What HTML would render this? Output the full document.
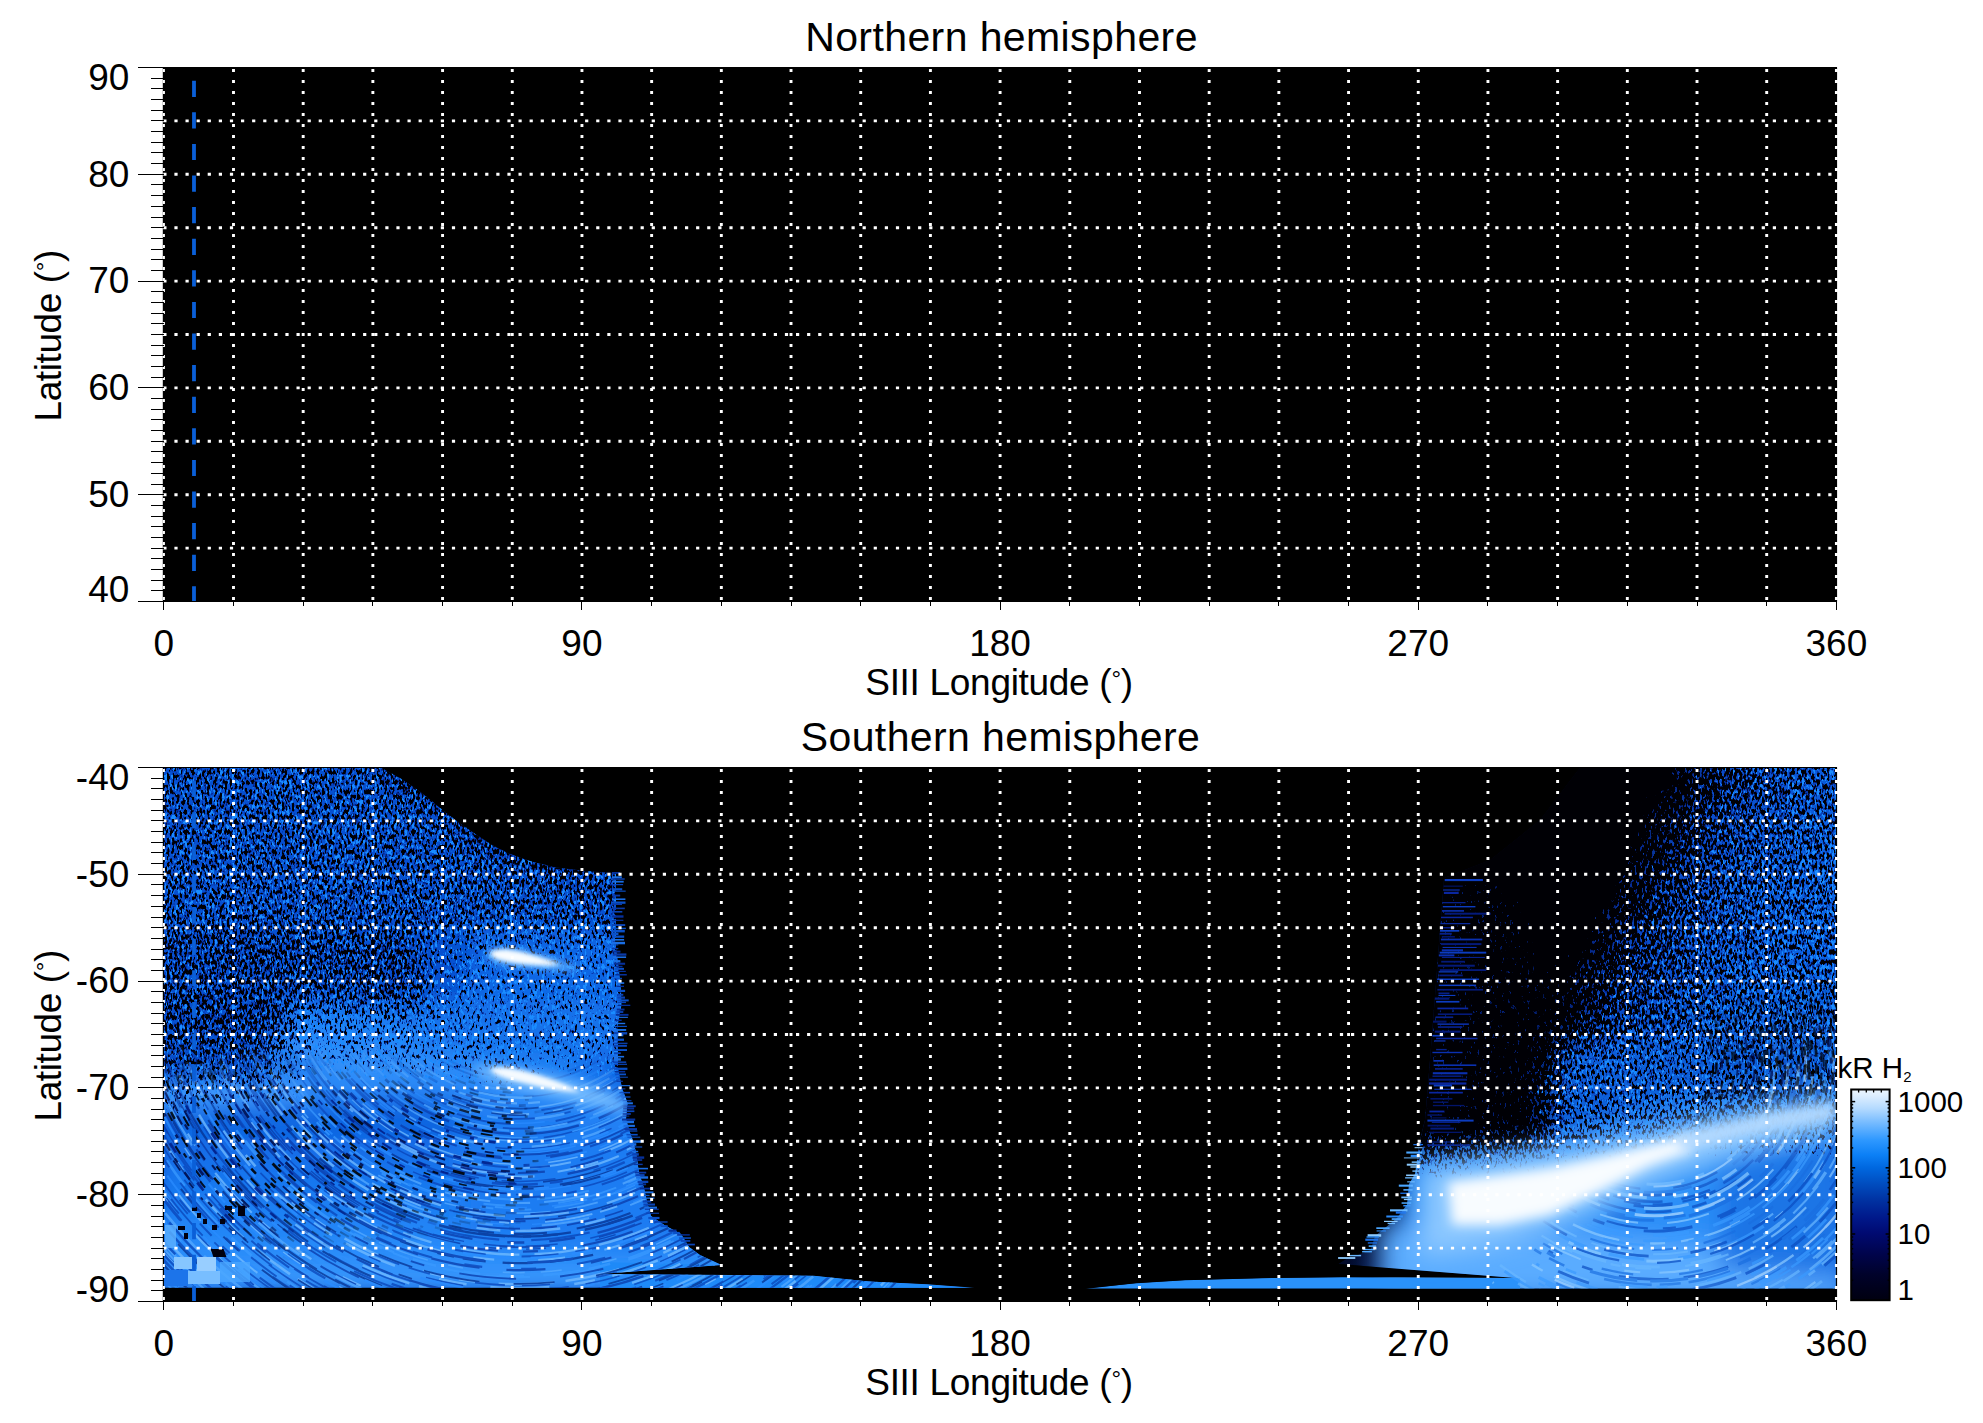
<!DOCTYPE html>
<html><head><meta charset="utf-8"><title>Hemisphere maps</title>
<style>html,body{margin:0;padding:0;background:#fff;width:1983px;height:1423px;overflow:hidden}</style>
</head><body>
<svg width="1983" height="1423" viewBox="0 0 1983 1423" style="display:block">
<rect width="1983" height="1423" fill="#fff"/>
<text x="1001.5" y="50.8" text-anchor="middle" style="font-family:'Liberation Sans',Arial,Helvetica,sans-serif;font-size:41px;letter-spacing:0.4px">Northern hemisphere</text>
<text x="1000.5" y="750.8" text-anchor="middle" style="font-family:'Liberation Sans',Arial,Helvetica,sans-serif;font-size:41px;letter-spacing:0.4px">Southern hemisphere</text>
<rect x="163.3" y="67.5" width="1673.7" height="534.0" fill="#000"/>
<line x1="163.4" y1="67.5" x2="163.4" y2="601.5" stroke="#000" stroke-width="1.2"/>
<line x1="1836.5" y1="67.5" x2="1836.5" y2="601.5" stroke="#000" stroke-width="1.2"/>
<g stroke="#fff" stroke-width="2.9" fill="none"><line x1="163.3" y1="120.90" x2="1837" y2="120.90" stroke-dasharray="3.2 7.9"/><line x1="163.3" y1="174.30" x2="1837" y2="174.30" stroke-dasharray="3.2 7.9"/><line x1="163.3" y1="227.70" x2="1837" y2="227.70" stroke-dasharray="3.2 7.9"/><line x1="163.3" y1="281.10" x2="1837" y2="281.10" stroke-dasharray="3.2 7.9"/><line x1="163.3" y1="334.50" x2="1837" y2="334.50" stroke-dasharray="3.2 7.9"/><line x1="163.3" y1="387.90" x2="1837" y2="387.90" stroke-dasharray="3.2 7.9"/><line x1="163.3" y1="441.30" x2="1837" y2="441.30" stroke-dasharray="3.2 7.9"/><line x1="163.3" y1="494.70" x2="1837" y2="494.70" stroke-dasharray="3.2 7.9"/><line x1="163.3" y1="548.10" x2="1837" y2="548.10" stroke-dasharray="3.2 7.9"/><line x1="233.49" y1="69.0" x2="233.49" y2="601.5" stroke-dasharray="3 8"/><line x1="303.18" y1="69.0" x2="303.18" y2="601.5" stroke-dasharray="3 8"/><line x1="372.87" y1="69.0" x2="372.87" y2="601.5" stroke-dasharray="3 8"/><line x1="442.57" y1="69.0" x2="442.57" y2="601.5" stroke-dasharray="3 8"/><line x1="512.26" y1="69.0" x2="512.26" y2="601.5" stroke-dasharray="3 8"/><line x1="581.95" y1="69.0" x2="581.95" y2="601.5" stroke-dasharray="3 8"/><line x1="651.64" y1="69.0" x2="651.64" y2="601.5" stroke-dasharray="3 8"/><line x1="721.33" y1="69.0" x2="721.33" y2="601.5" stroke-dasharray="3 8"/><line x1="791.02" y1="69.0" x2="791.02" y2="601.5" stroke-dasharray="3 8"/><line x1="860.71" y1="69.0" x2="860.71" y2="601.5" stroke-dasharray="3 8"/><line x1="930.41" y1="69.0" x2="930.41" y2="601.5" stroke-dasharray="3 8"/><line x1="1000.10" y1="69.0" x2="1000.10" y2="601.5" stroke-dasharray="3 8"/><line x1="1069.79" y1="69.0" x2="1069.79" y2="601.5" stroke-dasharray="3 8"/><line x1="1139.48" y1="69.0" x2="1139.48" y2="601.5" stroke-dasharray="3 8"/><line x1="1209.17" y1="69.0" x2="1209.17" y2="601.5" stroke-dasharray="3 8"/><line x1="1278.86" y1="69.0" x2="1278.86" y2="601.5" stroke-dasharray="3 8"/><line x1="1348.56" y1="69.0" x2="1348.56" y2="601.5" stroke-dasharray="3 8"/><line x1="1418.25" y1="69.0" x2="1418.25" y2="601.5" stroke-dasharray="3 8"/><line x1="1487.94" y1="69.0" x2="1487.94" y2="601.5" stroke-dasharray="3 8"/><line x1="1557.63" y1="69.0" x2="1557.63" y2="601.5" stroke-dasharray="3 8"/><line x1="1627.32" y1="69.0" x2="1627.32" y2="601.5" stroke-dasharray="3 8"/><line x1="1697.01" y1="69.0" x2="1697.01" y2="601.5" stroke-dasharray="3 8"/><line x1="1766.70" y1="69.0" x2="1766.70" y2="601.5" stroke-dasharray="3 8"/><line x1="1836.40" y1="69.0" x2="1836.40" y2="601.5" stroke-dasharray="3 8"/></g>
<line x1="163.9" y1="69.0" x2="163.9" y2="601.5" stroke="#fff" stroke-width="2" stroke-dasharray="3 8"/>
<line x1="194" y1="80.7" x2="194" y2="601.5" stroke="#0a5fd8" stroke-width="3.8" stroke-dasharray="16.2 15.4"/>
<g stroke="#000" stroke-width="1" shape-rendering="crispEdges"><line x1="138" y1="67.50" x2="163.8" y2="67.50"/><line x1="151" y1="78.18" x2="163.8" y2="78.18"/><line x1="151" y1="88.86" x2="163.8" y2="88.86"/><line x1="151" y1="99.54" x2="163.8" y2="99.54"/><line x1="151" y1="110.22" x2="163.8" y2="110.22"/><line x1="151" y1="120.90" x2="163.8" y2="120.90"/><line x1="151" y1="131.58" x2="163.8" y2="131.58"/><line x1="151" y1="142.26" x2="163.8" y2="142.26"/><line x1="151" y1="152.94" x2="163.8" y2="152.94"/><line x1="151" y1="163.62" x2="163.8" y2="163.62"/><line x1="138" y1="174.30" x2="163.8" y2="174.30"/><line x1="151" y1="184.98" x2="163.8" y2="184.98"/><line x1="151" y1="195.66" x2="163.8" y2="195.66"/><line x1="151" y1="206.34" x2="163.8" y2="206.34"/><line x1="151" y1="217.02" x2="163.8" y2="217.02"/><line x1="151" y1="227.70" x2="163.8" y2="227.70"/><line x1="151" y1="238.38" x2="163.8" y2="238.38"/><line x1="151" y1="249.06" x2="163.8" y2="249.06"/><line x1="151" y1="259.74" x2="163.8" y2="259.74"/><line x1="151" y1="270.42" x2="163.8" y2="270.42"/><line x1="138" y1="281.10" x2="163.8" y2="281.10"/><line x1="151" y1="291.78" x2="163.8" y2="291.78"/><line x1="151" y1="302.46" x2="163.8" y2="302.46"/><line x1="151" y1="313.14" x2="163.8" y2="313.14"/><line x1="151" y1="323.82" x2="163.8" y2="323.82"/><line x1="151" y1="334.50" x2="163.8" y2="334.50"/><line x1="151" y1="345.18" x2="163.8" y2="345.18"/><line x1="151" y1="355.86" x2="163.8" y2="355.86"/><line x1="151" y1="366.54" x2="163.8" y2="366.54"/><line x1="151" y1="377.22" x2="163.8" y2="377.22"/><line x1="138" y1="387.90" x2="163.8" y2="387.90"/><line x1="151" y1="398.58" x2="163.8" y2="398.58"/><line x1="151" y1="409.26" x2="163.8" y2="409.26"/><line x1="151" y1="419.94" x2="163.8" y2="419.94"/><line x1="151" y1="430.62" x2="163.8" y2="430.62"/><line x1="151" y1="441.30" x2="163.8" y2="441.30"/><line x1="151" y1="451.98" x2="163.8" y2="451.98"/><line x1="151" y1="462.66" x2="163.8" y2="462.66"/><line x1="151" y1="473.34" x2="163.8" y2="473.34"/><line x1="151" y1="484.02" x2="163.8" y2="484.02"/><line x1="138" y1="494.70" x2="163.8" y2="494.70"/><line x1="151" y1="505.38" x2="163.8" y2="505.38"/><line x1="151" y1="516.06" x2="163.8" y2="516.06"/><line x1="151" y1="526.74" x2="163.8" y2="526.74"/><line x1="151" y1="537.42" x2="163.8" y2="537.42"/><line x1="151" y1="548.10" x2="163.8" y2="548.10"/><line x1="151" y1="558.78" x2="163.8" y2="558.78"/><line x1="151" y1="569.46" x2="163.8" y2="569.46"/><line x1="151" y1="580.14" x2="163.8" y2="580.14"/><line x1="151" y1="590.82" x2="163.8" y2="590.82"/><line x1="138" y1="601.50" x2="163.8" y2="601.50"/><line x1="163.80" y1="601.5" x2="163.80" y2="609.5"/><line x1="233.49" y1="601.5" x2="233.49" y2="605.5"/><line x1="303.18" y1="601.5" x2="303.18" y2="605.5"/><line x1="372.87" y1="601.5" x2="372.87" y2="605.5"/><line x1="442.57" y1="601.5" x2="442.57" y2="605.5"/><line x1="512.26" y1="601.5" x2="512.26" y2="605.5"/><line x1="581.95" y1="601.5" x2="581.95" y2="609.5"/><line x1="651.64" y1="601.5" x2="651.64" y2="605.5"/><line x1="721.33" y1="601.5" x2="721.33" y2="605.5"/><line x1="791.02" y1="601.5" x2="791.02" y2="605.5"/><line x1="860.71" y1="601.5" x2="860.71" y2="605.5"/><line x1="930.41" y1="601.5" x2="930.41" y2="605.5"/><line x1="1000.10" y1="601.5" x2="1000.10" y2="609.5"/><line x1="1069.79" y1="601.5" x2="1069.79" y2="605.5"/><line x1="1139.48" y1="601.5" x2="1139.48" y2="605.5"/><line x1="1209.17" y1="601.5" x2="1209.17" y2="605.5"/><line x1="1278.86" y1="601.5" x2="1278.86" y2="605.5"/><line x1="1348.56" y1="601.5" x2="1348.56" y2="605.5"/><line x1="1418.25" y1="601.5" x2="1418.25" y2="609.5"/><line x1="1487.94" y1="601.5" x2="1487.94" y2="605.5"/><line x1="1557.63" y1="601.5" x2="1557.63" y2="605.5"/><line x1="1627.32" y1="601.5" x2="1627.32" y2="605.5"/><line x1="1697.01" y1="601.5" x2="1697.01" y2="605.5"/><line x1="1766.70" y1="601.5" x2="1766.70" y2="605.5"/><line x1="1836.40" y1="601.5" x2="1836.40" y2="609.5"/><line x1="138" y1="67.5" x2="1837" y2="67.5"/><line x1="138" y1="601.5" x2="1837" y2="601.5"/></g>
<g style="font-family:'Liberation Sans',Arial,Helvetica,sans-serif;font-size:37px" fill="#000"><text x="129.3" y="89.5" text-anchor="end">90</text><text x="129.3" y="186.5" text-anchor="end">80</text><text x="129.3" y="293.3" text-anchor="end">70</text><text x="129.3" y="400.1" text-anchor="end">60</text><text x="129.3" y="506.9" text-anchor="end">50</text><text x="129.3" y="601.5" text-anchor="end">40</text><text x="163.8" y="655.8" text-anchor="middle">0</text><text x="581.9" y="655.8" text-anchor="middle">90</text><text x="1000.1" y="655.8" text-anchor="middle">180</text><text x="1418.2" y="655.8" text-anchor="middle">270</text><text x="1836.4" y="655.8" text-anchor="middle">360</text></g>
<rect x="163.3" y="767.5" width="1673.7" height="534.0" fill="#000"/>
<defs>
<clipPath id="cL"><polygon points="164.0,767.5 381.0,767.5 400.0,778.0 418.0,790.0 432.0,801.0 445.0,812.0 461.0,824.0 477.0,835.0 492.0,845.0 508.0,853.0 530.0,861.0 554.0,867.0 585.0,871.0 616.0,873.0 616.0,906.0 616.0,948.0 619.0,970.0 621.0,990.0 621.5,1005.0 617.5,1026.0 618.0,1068.0 622.0,1088.0 627.5,1103.0 626.0,1119.0 629.0,1130.0 633.0,1141.0 636.0,1152.0 639.0,1173.0 644.0,1188.0 647.0,1202.0 651.0,1216.0 665.0,1225.5 681.0,1234.0 689.0,1247.0 700.0,1255.0 721.6,1265.0 600.0,1274.0 813.6,1275.7 869.0,1281.4 926.6,1284.3 974.5,1287.8 164.0,1287.8"/></clipPath>
<clipPath id="cR"><polygon points="1836.0,767.5 1836.0,1288.5 1084.2,1288.5 1136.7,1283.2 1185.0,1280.2 1261.7,1278.2 1342.0,1277.2 1516.0,1278.0 1338.0,1264.0 1346.0,1259.0 1370.6,1250.0 1375.0,1236.0 1397.0,1218.0 1407.0,1204.5 1409.0,1184.0 1415.0,1174.0 1417.0,1160.0 1419.0,1144.0 1425.0,1120.0 1430.0,1060.0 1436.0,983.0 1444.0,878.0 1490.0,860.0 1540.0,820.0 1580.0,767.5"/></clipPath>
<clipPath id="cLR"><polygon points="164.0,767.5 381.0,767.5 400.0,778.0 418.0,790.0 432.0,801.0 445.0,812.0 461.0,824.0 477.0,835.0 492.0,845.0 508.0,853.0 530.0,861.0 554.0,867.0 585.0,871.0 616.0,873.0 616.0,906.0 616.0,948.0 619.0,970.0 621.0,990.0 621.5,1005.0 617.5,1026.0 618.0,1068.0 622.0,1088.0 627.5,1103.0 626.0,1119.0 629.0,1130.0 633.0,1141.0 636.0,1152.0 639.0,1173.0 644.0,1188.0 647.0,1202.0 651.0,1216.0 665.0,1225.5 681.0,1234.0 689.0,1247.0 700.0,1255.0 721.6,1265.0 600.0,1274.0 813.6,1275.7 869.0,1281.4 926.6,1284.3 974.5,1287.8 164.0,1287.8"/><polygon points="1836.0,767.5 1836.0,1288.5 1084.2,1288.5 1136.7,1283.2 1185.0,1280.2 1261.7,1278.2 1342.0,1277.2 1516.0,1278.0 1338.0,1264.0 1346.0,1259.0 1370.6,1250.0 1375.0,1236.0 1397.0,1218.0 1407.0,1204.5 1409.0,1184.0 1415.0,1174.0 1417.0,1160.0 1419.0,1144.0 1425.0,1120.0 1430.0,1060.0 1436.0,983.0 1444.0,878.0 1490.0,860.0 1540.0,820.0 1580.0,767.5"/></clipPath>
<filter id="spk" x="163" y="767" width="1675" height="522" filterUnits="userSpaceOnUse" color-interpolation-filters="sRGB">
<feColorMatrix in="SourceGraphic" type="matrix" values="1 0 0 0 0  0 1 0 0 0  1 0 0 0 0  0 0 0 0 1" result="d1"/>
<feComponentTransfer in="d1" result="d"><feFuncR type="table" tableValues="0 0.308 0.35 0.379 0.402 0.421 0.439 0.455 0.47 0.485 0.5 0.515 0.53 0.545 0.561 0.579 0.598 0.621 0.65 0.692 1"/><feFuncG type="table" tableValues="0 0.308 0.35 0.379 0.402 0.421 0.439 0.455 0.47 0.485 0.5 0.515 0.53 0.545 0.561 0.579 0.598 0.621 0.65 0.692 1"/><feFuncB type="table" tableValues="0 0.37 0.41 0.44 0.46 0.48 0.5 0.515 0.53 0.545 0.56 0.575 0.59 0.605 0.62 0.64 0.66 0.68 0.71 0.75 1"/><feFuncA type="linear" slope="0" intercept="1"/></feComponentTransfer>
<feTurbulence type="fractalNoise" baseFrequency="0.4 0.2" numOctaves="2" seed="7" result="n0"/>
<feColorMatrix in="n0" type="matrix" values="1 0 0 0 0  0 1 0 0 0  1 0 0 0 0  0 0 0 0 1" result="n"/>
<feComposite in="n" in2="d" operator="arithmetic" k1="0" k2="1" k3="-1" k4="1" result="c"/>
<feColorMatrix in="c" type="matrix" values="0 0 0 0 0  0 0 0 0 0.0  0 0 0 0 0.02  -14 0 0 0 14" result="dk"/>
<feColorMatrix in="c" type="matrix" values="0 0 0 0 0.02  0 0 0 0 0.16  0 0 0 0 0.6  0 0 -14 0 14" result="nv"/>
<feColorMatrix in="c" type="matrix" values="0 0 0 0 0.1  0 0 0 0 0.55  0 0 0 0 1  0 -14 0 0 14" result="br"/>
<feMerge><feMergeNode in="br"/><feMergeNode in="nv"/><feMergeNode in="dk"/></feMerge>
</filter>
<filter id="b2" x="-20%" y="-20%" width="140%" height="140%"><feGaussianBlur stdDeviation="2"/></filter>
<filter id="b4" x="-30%" y="-30%" width="160%" height="160%"><feGaussianBlur stdDeviation="4"/></filter>
<filter id="b6" x="-30%" y="-30%" width="160%" height="160%"><feGaussianBlur stdDeviation="6"/></filter>
<filter id="b8" x="-30%" y="-30%" width="160%" height="160%"><feGaussianBlur stdDeviation="8"/></filter>
<filter id="b12" x="-30%" y="-30%" width="160%" height="160%"><feGaussianBlur stdDeviation="12"/></filter>
<filter id="b16" x="-30%" y="-30%" width="160%" height="160%"><feGaussianBlur stdDeviation="16"/></filter>

<linearGradient id="gDR" gradientUnits="userSpaceOnUse" x1="1560" y1="830" x2="1800" y2="950">
<stop offset="0" stop-color="rgb(255,0,0)"/><stop offset="0.25" stop-color="rgb(252,0,0)"/><stop offset="0.36" stop-color="rgb(230,10,0)"/>
<stop offset="0.48" stop-color="rgb(178,51,0)"/><stop offset="0.62" stop-color="rgb(133,97,0)"/><stop offset="0.8" stop-color="rgb(117,117,0)"/><stop offset="1" stop-color="rgb(112,128,0)"/></linearGradient>
<linearGradient id="gBR" gradientUnits="userSpaceOnUse" x1="1560" y1="830" x2="1800" y2="950">
<stop offset="0" stop-color="#020a28"/><stop offset="0.3" stop-color="#062a80"/><stop offset="0.45" stop-color="#0a4cc8"/><stop offset="1" stop-color="#0a62e2"/></linearGradient>
<linearGradient id="gLlow" gradientUnits="userSpaceOnUse" x1="0" y1="1090" x2="0" y2="1288">
<stop offset="0" stop-color="#0c5ad8"/><stop offset="0.45" stop-color="#1676ee"/><stop offset="0.75" stop-color="#2488f8"/><stop offset="1" stop-color="#3a98fc"/></linearGradient>
<linearGradient id="mLowG" gradientUnits="userSpaceOnUse" x1="0" y1="1040" x2="0" y2="1120">
<stop offset="0" stop-color="#000"/><stop offset="1" stop-color="#fff"/></linearGradient>
<mask id="mLow" maskUnits="userSpaceOnUse" x="150" y="760" width="900" height="540"><rect x="150" y="760" width="900" height="540" fill="url(#mLowG)"/></mask>
<mask id="mLowDark" maskUnits="userSpaceOnUse" x="150" y="760" width="900" height="540"><path d="M150,1070 C300,1080 420,1090 520,1100 L540,1200 C420,1215 300,1230 150,1250Z" fill="#fff" filter="url(#b16)"/></mask>
<mask id="mRlow" maskUnits="userSpaceOnUse" x="1000" y="760" width="840" height="540"><path d="M1380,1180 L1560,1150 L1700,1090 L1860,1040 L1860,1300 L1380,1300Z" fill="#fff" filter="url(#b16)"/></mask>
<mask id="mRmid" maskUnits="userSpaceOnUse" x="1000" y="760" width="840" height="540"><path d="M1560,1040 L1860,1000 L1860,1110 L1700,1120 L1600,1150 L1540,1150Z" fill="#fff" filter="url(#b16)"/></mask>

</defs>
<g clip-path="url(#cL)">
<polygon points="164.0,767.5 381.0,767.5 400.0,778.0 418.0,790.0 432.0,801.0 445.0,812.0 461.0,824.0 477.0,835.0 492.0,845.0 508.0,853.0 530.0,861.0 554.0,867.0 585.0,871.0 616.0,873.0 616.0,906.0 616.0,948.0 619.0,970.0 621.0,990.0 621.5,1005.0 617.5,1026.0 618.0,1068.0 622.0,1088.0 627.5,1103.0 626.0,1119.0 629.0,1130.0 633.0,1141.0 636.0,1152.0 639.0,1173.0 644.0,1188.0 647.0,1202.0 651.0,1216.0 665.0,1225.5 681.0,1234.0 689.0,1247.0 700.0,1255.0 721.6,1265.0 600.0,1274.0 813.6,1275.7 869.0,1281.4 926.6,1284.3 974.5,1287.8 164.0,1287.8" fill="#0650d0"/>
<rect x="160" y="1090" width="900" height="200" fill="url(#gLlow)" filter="url(#b8)"/>
<g filter="url(#b12)">
<path d="M470,930 L640,930 L660,1230 L470,1230Z" fill="#0e66e4"/>
<path d="M460,1100 L660,1110 L700,1250 L460,1240Z" fill="#1a7cf2"/>
<path d="M280,1000 C380,1002 460,1014 530,1034 L600,1080 L600,1110 C520,1090 430,1075 280,1065Z" fill="#1e80f4"/>
<path d="M270,1038 C340,1044 420,1054 490,1064 L490,1084 C420,1076 340,1066 270,1060Z" fill="#3a98fc"/>
<path d="M420,1000 L620,1000 L620,1060 L420,1050Z" fill="#1272ea"/>
<path d="M130,1078 C260,1082 380,1062 470,1065 C540,1070 600,1090 660,1105 L660,1125 C560,1110 480,1100 400,1102 C300,1106 220,1110 130,1108Z" fill="#2a8af8"/>
<path d="M130,1082 L300,1084 L300,1104 L130,1106Z" fill="#4aa2ff"/>
</g>
<path d="M600,1262 L720,1265 L600,1272Z M600,1276 L813,1276 L869,1281.5 L926,1284.5 L975,1288 L600,1288Z" fill="#1e8af8"/>
</g>
<g clip-path="url(#cR)">
<polygon points="1836.0,767.5 1836.0,1288.5 1084.2,1288.5 1136.7,1283.2 1185.0,1280.2 1261.7,1278.2 1342.0,1277.2 1516.0,1278.0 1338.0,1264.0 1346.0,1259.0 1370.6,1250.0 1375.0,1236.0 1397.0,1218.0 1407.0,1204.5 1409.0,1184.0 1415.0,1174.0 1417.0,1160.0 1419.0,1144.0 1425.0,1120.0 1430.0,1060.0 1436.0,983.0 1444.0,878.0 1490.0,860.0 1540.0,820.0 1580.0,767.5" fill="url(#gBR)"/>
<g filter="url(#b12)">
<path d="M1400,880 L1520,880 L1560,990 L1600,1060 L1540,1150 L1400,1160Z" fill="#041650"/>
<path d="M1560,1040 L1860,1000 L1860,1110 L1700,1120 L1600,1150 L1540,1150Z" fill="#0c5ed8"/>
<path d="M1400,1150 C1500,1150 1560,1140 1620,1120 C1700,1095 1760,1085 1850,1080 L1850,1300 L1400,1300Z" fill="#2c8ef8"/>
<path d="M1380,1225 C1500,1230 1600,1235 1700,1245 L1850,1250 L1850,1300 L1380,1300Z" fill="#5aacff"/>
<path d="M1720,1160 L1850,1130 L1850,1280 L1720,1270Z" fill="#1a74e6"/>
</g>
<path d="M1084,1289 L1136,1283 L1185,1280 L1262,1278 L1342,1277 L1520,1278 L1520,1289Z" fill="#2a92fa"/>
</g>
<g clip-path="url(#cLR)"><g filter="url(#spk)">
<rect x="163" y="767" width="1675" height="522" fill="rgb(0,0,0)"/>
<g filter="url(#b12)">
<rect x="100" y="700" width="560" height="240" fill="rgb(107,102,0)"/>
<rect x="100" y="930" width="340" height="80" fill="rgb(140,82,0)"/>
<path d="M381,767.5 L400,778 L418,790 L445,812 L477,835 L508,853 L554,867 L616,873" fill="none" stroke="rgb(158,76,0)" stroke-width="22"/>
<rect x="100" y="1000" width="200" height="60" fill="rgb(140,76,0)"/>
<path d="M290,1000 C380,1000 460,1010 520,1030 L520,1080 C440,1070 360,1062 290,1058Z" fill="rgb(51,89,0)"/>
<path d="M420,930 L660,930 L660,1070 L420,1060Z" fill="rgb(36,76,0)"/>
<path d="M280,1040 C340,1046 420,1056 490,1066 L490,1080 C420,1072 340,1064 280,1058Z" fill="rgb(20,76,0)"/>
<rect x="100" y="1055" width="190" height="35" fill="rgb(82,76,0)"/>
<rect x="100" y="1085" width="100" height="25" fill="rgb(26,76,0)"/>
<rect x="1380" y="700" width="500" height="440" fill="url(#gDR)"/>
<path d="M1400,880 L1520,880 L1560,990 L1600,1060 L1540,1150 L1400,1160Z" fill="rgb(245,5,0)"/>
<path d="M1560,1040 L1900,1030 L1900,1110 L1700,1120 L1600,1150 L1540,1150Z" fill="rgb(84,76,0)"/>
</g>
</g></g>
<g clip-path="url(#cL)"><g mask="url(#mLow)">
<g fill="none" opacity="0.75"><path d="M652.4,1000.4A150.0,150.0 0 0 1 387.0,860.6" stroke="#0a44b8" stroke-width="2.1" stroke-dasharray="33 32 56 28 35 33 19 30 41 41 15 21 15 42 45 10 59 49" stroke-dashoffset="250"/><path d="M647.8,1013.6A152.7,152.7 0 1 1 407.1,827.2" stroke="#0a3aa8" stroke-width="1.9" stroke-dasharray="40 41 26 33 20 18 25 8 14 36 30 31 57 11 23 40 36 9" stroke-dashoffset="254"/><path d="M648.6,1017.2A155.4,155.4 0 0 1 385.5,852.2" stroke="#2a8cff" stroke-width="1.6" stroke-dasharray="10 17 56 28 59 25 14 34 49 19 14 22 58 40 16 18 15 11" stroke-dashoffset="168"/><path d="M659.1,1004.6A157.9,157.9 0 1 1 383.8,850.3" stroke="#56aaff" stroke-width="2.4" stroke-dasharray="17 35 16 26 21 19 59 42 25 45 21 25 53 35 15 50 21 19" stroke-dashoffset="116"/><path d="M660.6,1006.9A160.2,160.2 0 0 1 378.0,855.7" stroke="#2a8cff" stroke-width="2.1" stroke-dasharray="11 23 41 13 39 43 17 24 41 21 21 34 46 15 41 31 44 24" stroke-dashoffset="126"/><path d="M659.0,1015.2A163.1,163.1 0 1 1 387.2,835.3" stroke="#2a8cff" stroke-width="1.7" stroke-dasharray="22 38 23 43 40 20 19 38 13 18 38 44 41 20 56 17 11 19" stroke-dashoffset="14"/><path d="M649.3,1033.9A165.9,165.9 0 1 1 395.6,820.3" stroke="#0a3aa8" stroke-width="1.5" stroke-dasharray="15 14 33 22 47 30 57 33 56 28 28 21 12 33 14 11 26 14" stroke-dashoffset="164"/><path d="M651.3,1035.4A168.4,168.4 0 0 1 384.3,830.3" stroke="#74bcff" stroke-width="2.3" stroke-dasharray="45 41 56 23 44 46 54 26 50 44 39 34 29 32 40 11 42 50" stroke-dashoffset="117"/><path d="M662.2,1024.1A170.5,170.5 0 0 1 373.9,842.2" stroke="#2a8cff" stroke-width="2.0" stroke-dasharray="52 12 48 9 40 28 22 37 35 34 56 19 11 21 44 17 18 46" stroke-dashoffset="72"/><path d="M666.5,1021.7A172.9,172.9 0 1 1 388.4,817.9" stroke="#74bcff" stroke-width="2.2" stroke-dasharray="50 40 20 17 21 47 20 14 28 46 12 11 59 43 16 28 56 43" stroke-dashoffset="148"/><path d="M659.9,1036.3A175.7,175.7 0 0 1 372.5,834.6" stroke="#2a8cff" stroke-width="1.5" stroke-dasharray="33 11 12 45 12 38 39 21 50 9 17 27 11 43 22 14 12 34" stroke-dashoffset="161"/><path d="M661.6,1036.8A177.4,177.4 0 1 1 387.3,812.3" stroke="#74bcff" stroke-width="1.6" stroke-dasharray="20 43 23 38 48 30 12 18 49 31 57 29 60 15 52 37 21 25" stroke-dashoffset="136"/><path d="M668.6,1030.5A179.4,179.4 0 1 1 374.5,825.0" stroke="#06308f" stroke-width="1.8" stroke-dasharray="38 45 50 48 33 35 20 38 51 35 46 17 55 49 59 31 50 21" stroke-dashoffset="25"/><path d="M658.8,1047.7A182.0,182.0 0 0 1 372.8,823.1" stroke="#0a44b8" stroke-width="1.9" stroke-dasharray="34 9 50 11 50 15 27 41 17 14 36 38 52 37 57 29 57 12" stroke-dashoffset="168"/><path d="M680.8,1018.9A183.7,183.7 0 0 1 358.5,842.4" stroke="#74bcff" stroke-width="2.1" stroke-dasharray="36 46 23 36 58 45 40 21 17 31 24 29 31 13 10 24 37 10" stroke-dashoffset="297"/><path d="M666.2,1044.2A185.5,185.5 0 0 1 363.0,831.3" stroke="#06308f" stroke-width="1.6" stroke-dasharray="57 27 56 42 30 18 35 22 55 47 56 30 15 26 11 19 45 49" stroke-dashoffset="68"/><path d="M663.7,1050.4A187.5,187.5 0 1 1 379.5,805.9" stroke="#0a44b8" stroke-width="1.7" stroke-dasharray="41 12 47 13 36 19 20 30 32 24 31 30 18 17 42 35 36 44" stroke-dashoffset="222"/><path d="M685.9,1021.4A189.4,189.4 0 1 1 365.0,821.1" stroke="#56aaff" stroke-width="2.5" stroke-dasharray="26 47 21 50 54 14 22 39 23 12 52 26 49 13 30 37 11 16" stroke-dashoffset="291"/><path d="M680.5,1035.3A192.0,192.0 0 1 1 360.5,823.1" stroke="#2a8cff" stroke-width="1.5" stroke-dasharray="35 37 19 11 15 10 38 30 38 14 19 17 52 50 56 12 13 48" stroke-dashoffset="29"/><path d="M668.9,1054.4A194.0,194.0 0 0 1 353.9,829.7" stroke="#0a44b8" stroke-width="2.0" stroke-dasharray="21 24 42 10 20 25 28 24 56 33 15 41 26 12 52 45 55 47" stroke-dashoffset="295"/><path d="M687.2,1033.6A196.7,196.7 0 0 1 350.4,830.3" stroke="#0a44b8" stroke-width="1.7" stroke-dasharray="47 41 51 25 55 45 45 40 48 25 46 11 27 28 11 23 42 34" stroke-dashoffset="288"/><path d="M666.6,1064.3A198.8,198.8 0 0 1 359.3,812.9" stroke="#56aaff" stroke-width="2.1" stroke-dasharray="19 11 36 29 21 13 30 32 16 13 22 27 35 40 42 8 23 20" stroke-dashoffset="152"/><path d="M670.2,1064.6A201.7,201.7 0 0 1 360.3,806.9" stroke="#3a9aff" stroke-width="2.0" stroke-dasharray="42 42 14 33 48 10 57 15 34 15 35 34 13 48 31 30 40 23" stroke-dashoffset="81"/><path d="M688.3,1045.6A204.2,204.2 0 1 1 369.8,791.6" stroke="#0a3aa8" stroke-width="2.5" stroke-dasharray="11 40 39 35 30 37 13 21 30 32 46 21 50 17 46 19 48 10" stroke-dashoffset="217"/><path d="M675.4,1066.5A206.8,206.8 0 0 1 360.5,798.3" stroke="#0a44b8" stroke-width="1.7" stroke-dasharray="40 13 41 27 20 10 36 13 32 36 33 19 39 26 49 30 60 48" stroke-dashoffset="34"/><path d="M685.2,1058.3A209.2,209.2 0 0 1 350.4,807.6" stroke="#3a9aff" stroke-width="1.5" stroke-dasharray="28 19 44 32 40 35 48 16 22 49 56 45 12 11 24 26 41 12" stroke-dashoffset="26"/><path d="M681.5,1066.6A211.6,211.6 0 0 1 336.7,824.4" stroke="#56aaff" stroke-width="1.7" stroke-dasharray="29 28 21 22 47 43 14 13 50 34 48 17 31 19 50 23 43 50" stroke-dashoffset="228"/><path d="M699.7,1046.1A214.0,214.0 0 0 1 332.7,826.7" stroke="#0a44b8" stroke-width="1.8" stroke-dasharray="39 27 26 31 32 32 51 27 51 8 26 46 40 37 35 40 26 45" stroke-dashoffset="218"/><path d="M684.9,1070.2A216.4,216.4 0 0 1 344.9,802.8" stroke="#56aaff" stroke-width="2.4" stroke-dasharray="38 47 57 46 32 42 25 21 30 47 55 18 28 23 28 25 29 16" stroke-dashoffset="162"/><path d="M701.4,1051.2A218.2,218.2 0 1 1 349.0,794.5" stroke="#0a44b8" stroke-width="1.5" stroke-dasharray="48 45 24 9 36 31 38 49 43 42 13 31 49 12 14 39 55 12" stroke-dashoffset="245"/><path d="M699.7,1057.6A220.4,220.4 0 1 1 347.2,793.2" stroke="#2a8cff" stroke-width="2.5" stroke-dasharray="55 22 33 23 50 22 17 28 50 11 41 10 48 49 27 8 29 12" stroke-dashoffset="192"/><path d="M691.3,1072.8A223.0,223.0 0 0 1 330.9,811.8" stroke="#2a8cff" stroke-width="1.4" stroke-dasharray="31 26 17 39 60 24 18 17 31 20 58 10 25 13 42 41 19 11" stroke-dashoffset="144"/><path d="M718.9,1034.8A224.8,224.8 0 1 1 353.4,779.1" stroke="#0a3aa8" stroke-width="2.0" stroke-dasharray="28 33 40 28 35 27 55 25 56 47 41 48 38 44 34 25 58 36" stroke-dashoffset="66"/><path d="M714.4,1048.0A227.4,227.4 0 1 1 335.0,797.8" stroke="#0a44b8" stroke-width="2.2" stroke-dasharray="29 30 36 20 60 36 22 8 34 24 50 38 40 15 18 22 23 45" stroke-dashoffset="298"/><path d="M723.1,1036.1A229.1,229.1 0 1 1 329.2,803.2" stroke="#0a3aa8" stroke-width="2.3" stroke-dasharray="49 8 51 44 51 11 23 38 15 28 33 48 39 44 25 41 31 47" stroke-dashoffset="132"/><path d="M711.0,1060.5A231.3,231.3 0 0 1 314.2,824.4" stroke="#2a8cff" stroke-width="1.7" stroke-dasharray="57 48 26 25 38 50 43 11 14 14 43 36 47 41 16 27 53 38" stroke-dashoffset="169"/><path d="M725.8,1041.8A234.2,234.2 0 1 1 335.1,786.3" stroke="#74bcff" stroke-width="1.5" stroke-dasharray="50 17 41 20 29 31 25 22 30 36 23 16 47 22 57 32 46 22" stroke-dashoffset="42"/><path d="M709.5,1071.8A236.6,236.6 0 0 1 319.5,804.3" stroke="#74bcff" stroke-width="2.1" stroke-dasharray="19 25 52 33 15 18 18 13 30 11 56 26 36 35 48 42 29 22" stroke-dashoffset="218"/><path d="M698.0,1089.9A239.2,239.2 0 1 1 345.0,766.9" stroke="#0a44b8" stroke-width="2.1" stroke-dasharray="22 49 36 19 19 21 32 31 20 22 25 12 46 19 37 21 22 34" stroke-dashoffset="59"/><path d="M700.9,1090.3A241.7,241.7 0 1 1 342.9,765.6" stroke="#0a3aa8" stroke-width="2.1" stroke-dasharray="57 32 11 36 49 14 34 26 27 12 54 19 54 27 46 18 38 31" stroke-dashoffset="79"/><path d="M709.3,1084.5A244.3,244.3 0 0 1 307.4,809.6" stroke="#74bcff" stroke-width="2.1" stroke-dasharray="40 13 51 20 55 18 39 43 19 31 14 9 19 49 57 36 25 36" stroke-dashoffset="192"/><path d="M700.5,1097.8A246.4,246.4 0 0 1 332.4,770.3" stroke="#74bcff" stroke-width="2.3" stroke-dasharray="12 30 16 25 27 14 22 47 13 41 46 41 30 29 15 23 55 46" stroke-dashoffset="146"/><path d="M708.1,1093.3A249.1,249.1 0 1 1 336.5,761.5" stroke="#0a3aa8" stroke-width="2.4" stroke-dasharray="30 26 38 46 36 30 32 46 26 10 46 46 47 33 48 21 40 11" stroke-dashoffset="73"/><path d="M706.1,1098.8A251.2,251.2 0 0 1 296.2,815.9" stroke="#0a44b8" stroke-width="1.5" stroke-dasharray="15 46 37 36 57 45 60 39 54 23 37 32 18 35 31 13 14 30" stroke-dashoffset="161"/><path d="M733.1,1066.6A253.1,253.1 0 1 1 311.6,786.4" stroke="#06308f" stroke-width="1.6" stroke-dasharray="25 22 13 46 51 25 28 33 12 9 55 21 35 47 59 28 20 20" stroke-dashoffset="251"/><path d="M720.7,1087.1A254.9,254.9 0 0 1 302.2,797.6" stroke="#0a44b8" stroke-width="2.4" stroke-dasharray="54 50 20 35 20 45 13 12 46 21 55 45 46 14 45 47 32 11" stroke-dashoffset="36"/><path d="M740.6,1062.6A257.4,257.4 0 1 1 322.4,765.1" stroke="#06308f" stroke-width="2.1" stroke-dasharray="35 20 24 42 36 13 36 49 55 16 21 14 43 27 14 47 14 46" stroke-dashoffset="85"/><path d="M731.9,1078.9A259.0,259.0 0 1 1 323.1,761.7" stroke="#2a8cff" stroke-width="2.3" stroke-dasharray="24 40 22 20 37 16 55 49 12 27 48 24 56 29 19 31 42 23" stroke-dashoffset="155"/><path d="M746.7,1060.3A261.5,261.5 0 0 1 292.3,801.5" stroke="#06308f" stroke-width="2.1" stroke-dasharray="36 48 19 41 18 34 22 26 49 41 50 18 34 17 39 29 12 33" stroke-dashoffset="262"/><path d="M748.4,1060.5A263.0,263.0 0 1 1 294.7,794.2" stroke="#2a8cff" stroke-width="1.5" stroke-dasharray="35 26 32 19 50 11 55 32 37 41 22 14 26 10 26 34 36 19" stroke-dashoffset="246"/><path d="M738.1,1080.2A264.8,264.8 0 1 1 323.1,752.9" stroke="#0a44b8" stroke-width="1.5" stroke-dasharray="45 43 49 11 31 23 21 49 12 29 48 49 17 27 47 10 22 45" stroke-dashoffset="167"/><path d="M723.5,1103.7A267.6,267.6 0 0 1 295.8,783.9" stroke="#0a44b8" stroke-width="2.0" stroke-dasharray="44 38 59 34 25 13 53 26 14 18 25 48 56 17 18 33 60 39" stroke-dashoffset="118"/><path d="M730.4,1099.5A270.2,270.2 0 0 1 299.2,774.3" stroke="#3a9aff" stroke-width="2.1" stroke-dasharray="21 23 19 31 18 17 21 28 25 27 60 37 53 17 29 11 45 23" stroke-dashoffset="156"/><path d="M761.3,1056.4A272.5,272.5 0 1 1 282.7,796.2" stroke="#3a9aff" stroke-width="1.9" stroke-dasharray="42 17 15 10 46 41 17 18 52 13 60 43 32 44 29 19 54 36" stroke-dashoffset="71"/><path d="M728.7,1108.7A274.8,274.8 0 0 1 306.3,757.3" stroke="#56aaff" stroke-width="2.1" stroke-dasharray="12 21 31 31 17 38 23 38 43 14 20 20 46 25 29 44 21 20" stroke-dashoffset="42"/><path d="M761.0,1066.5A277.0,277.0 0 1 1 288.9,777.4" stroke="#3a9aff" stroke-width="2.0" stroke-dasharray="11 40 47 36 13 44 38 23 16 41 29 41 23 42 16 29 34 47" stroke-dashoffset="84"/><path d="M759.1,1074.0A279.1,279.1 0 0 1 272.1,801.7" stroke="#3a9aff" stroke-width="2.0" stroke-dasharray="18 36 22 12 27 26 18 32 45 31 45 9 30 23 13 25 13 29" stroke-dashoffset="98"/><path d="M769.1,1060.3A281.1,281.1 0 1 1 274.5,793.0" stroke="#2a8cff" stroke-width="1.9" stroke-dasharray="55 32 23 36 19 28 41 48 28 32 57 40 41 34 31 25 24 43" stroke-dashoffset="273"/><path d="M771.7,1060.0A283.3,283.3 0 1 1 302.6,748.3" stroke="#56aaff" stroke-width="1.7" stroke-dasharray="25 23 59 14 20 18 44 18 10 31 30 18 35 35 37 34 38 43" stroke-dashoffset="31"/><path d="M761.9,1080.9A285.1,285.1 0 1 1 303.4,744.5" stroke="#0a3aa8" stroke-width="2.4" stroke-dasharray="30 15 20 15 27 37 50 20 31 23 43 29 42 23 45 47 47 45" stroke-dashoffset="266"/><path d="M743.8,1110.2A287.4,287.4 0 0 1 274.5,780.7" stroke="#74bcff" stroke-width="2.2" stroke-dasharray="44 10 41 25 34 22 30 39 45 19 42 23 44 16 53 17 38 13" stroke-dashoffset="38"/><path d="M755.0,1098.4A289.1,289.1 0 1 1 298.0,744.8" stroke="#06308f" stroke-width="1.6" stroke-dasharray="20 34 25 35 59 28 45 41 56 19 24 19 43 24 44 14 18 50" stroke-dashoffset="107"/><path d="M739.5,1121.4A291.2,291.2 0 0 1 278.4,767.5" stroke="#0a3aa8" stroke-width="2.1" stroke-dasharray="55 43 53 15 13 26 53 35 21 38 30 14 39 36 21 20 53 27" stroke-dashoffset="269"/><path d="M744.7,1117.9A292.9,292.9 0 0 1 275.3,769.0" stroke="#74bcff" stroke-width="2.0" stroke-dasharray="54 19 38 19 30 22 14 16 38 31 18 8 48 36 10 22 17 41" stroke-dashoffset="124"/><path d="M737.7,1128.4A294.5,294.5 0 0 1 258.0,795.5" stroke="#2a8cff" stroke-width="1.4" stroke-dasharray="38 36 41 20 57 44 60 27 52 38 19 9 18 13 14 23 48 21" stroke-dashoffset="63"/><path d="M737.5,1131.9A296.8,296.8 0 0 1 283.1,751.3" stroke="#56aaff" stroke-width="2.0" stroke-dasharray="51 41 47 25 50 43 48 49 15 48 30 38 23 46 11 32 21 24" stroke-dashoffset="83"/><path d="M741.3,1130.9A298.9,298.9 0 0 1 261.9,779.3" stroke="#0a3aa8" stroke-width="1.8" stroke-dasharray="26 11 43 33 23 17 19 10 17 21 20 23 18 24 19 9 30 10" stroke-dashoffset="161"/><path d="M761.3,1110.9A301.6,301.6 0 0 1 265.7,767.9" stroke="#74bcff" stroke-width="2.5" stroke-dasharray="26 40 15 49 32 48 21 25 45 15 24 36 57 22 19 23 59 14" stroke-dashoffset="17"/><path d="M784.5,1079.2A303.7,303.7 0 1 1 269.7,758.0" stroke="#06308f" stroke-width="2.1" stroke-dasharray="46 26 58 47 16 39 47 26 33 43 35 24 37 10 56 30 33 20" stroke-dashoffset="279"/><path d="M755.2,1126.7A306.6,306.6 0 0 1 266.6,757.4" stroke="#06308f" stroke-width="2.3" stroke-dasharray="47 21 47 50 30 44 16 50 35 18 52 35 57 43 50 29 60 11" stroke-dashoffset="75"/><path d="M786.1,1086.8A308.8,308.8 0 1 1 257.0,768.1" stroke="#06308f" stroke-width="2.5" stroke-dasharray="53 16 24 35 14 31 49 29 22 42 53 40 37 46 50 14 28 12" stroke-dashoffset="287"/><path d="M791.8,1081.0A310.9,310.9 0 1 1 275.3,738.1" stroke="#0a44b8" stroke-width="2.2" stroke-dasharray="41 9 44 28 34 12 42 30 26 48 59 32 60 24 51 37 52 48" stroke-dashoffset="54"/><path d="M765.8,1123.9A313.1,313.1 0 0 1 251.0,769.9" stroke="#0a3aa8" stroke-width="2.5" stroke-dasharray="16 13 57 34 28 16 60 37 47 23 26 25 17 35 31 42 30 27" stroke-dashoffset="104"/><path d="M773.5,1117.6A315.4,315.4 0 1 1 281.5,723.7" stroke="#0a44b8" stroke-width="1.4" stroke-dasharray="24 45 24 44 44 27 57 24 47 33 32 11 31 20 32 48 25 37" stroke-dashoffset="112"/><path d="M789.0,1098.5A317.4,317.4 0 1 1 269.0,735.7" stroke="#0a3aa8" stroke-width="1.8" stroke-dasharray="24 12 54 40 15 36 33 17 50 9 12 33 45 50 51 45 43 15" stroke-dashoffset="139"/><path d="M771.5,1127.5A319.8,319.8 0 1 1 273.5,726.2" stroke="#0a3aa8" stroke-width="1.4" stroke-dasharray="59 49 60 25 51 35 45 50 13 27 30 36 21 50 20 24 17 25" stroke-dashoffset="288"/><path d="M803.7,1083.5A322.5,322.5 0 1 1 256.4,744.1" stroke="#0a3aa8" stroke-width="2.1" stroke-dasharray="43 49 34 45 32 15 29 23 52 45 15 25 38 49 49 12 60 32" stroke-dashoffset="39"/><path d="M769.4,1137.5A324.4,324.4 0 0 1 235.6,773.9" stroke="#74bcff" stroke-width="2.4" stroke-dasharray="49 18 31 10 21 27 38 27 53 12 53 15 59 30 30 34 53 48" stroke-dashoffset="69"/><path d="M765.0,1146.5A327.0,327.0 0 0 1 246.8,750.4" stroke="#0a44b8" stroke-width="2.1" stroke-dasharray="29 20 41 25 35 46 37 40 49 24 25 17 37 36 31 46 20 50" stroke-dashoffset="150"/><path d="M788.0,1120.7A328.9,328.9 0 1 1 263.4,724.2" stroke="#2a8cff" stroke-width="2.5" stroke-dasharray="47 19 28 26 34 23 32 27 12 43 13 30 37 25 21 12 29 21" stroke-dashoffset="156"/><path d="M811.0,1087.6A330.9,330.9 0 1 1 252.8,734.8" stroke="#74bcff" stroke-width="2.2" stroke-dasharray="40 12 44 23 22 48 45 43 20 40 13 16 16 40 27 44 21 33" stroke-dashoffset="112"/><path d="M800.9,1108.0A332.6,332.6 0 1 1 254.4,729.8" stroke="#06308f" stroke-width="2.4" stroke-dasharray="30 17 23 9 17 15 24 20 60 29 30 12 17 22 46 34 44 17" stroke-dashoffset="144"/><path d="M799.2,1115.8A335.3,335.3 0 1 1 247.3,734.9" stroke="#0a3aa8" stroke-width="2.5" stroke-dasharray="51 15 14 37 17 40 44 42 32 46 46 43 58 23 52 38 45 25" stroke-dashoffset="63"/><path d="M779.5,1146.6A338.0,338.0 0 0 1 253.4,722.2" stroke="#0a44b8" stroke-width="2.2" stroke-dasharray="16 45 34 9 32 24 44 47 35 37 29 41 15 39 18 33 20 23" stroke-dashoffset="113"/><path d="M774.5,1155.6A340.1,340.1 0 0 1 239.0,738.4" stroke="#0a3aa8" stroke-width="2.1" stroke-dasharray="39 27 49 14 45 25 15 29 42 23 31 10 56 42 23 18 21 46" stroke-dashoffset="293"/><path d="M795.8,1132.7A342.3,342.3 0 1 1 263.2,703.7" stroke="#56aaff" stroke-width="1.5" stroke-dasharray="22 40 15 21 52 9 45 32 38 22 18 48 48 42 15 41 21 16" stroke-dashoffset="229"/><path d="M808.6,1119.1A345.1,345.1 0 1 1 256.3,707.5" stroke="#3a9aff" stroke-width="2.5" stroke-dasharray="44 23 58 38 25 44 46 19 22 9 37 19 25 19 17 28 24 20" stroke-dashoffset="46"/><path d="M818.6,1107.4A347.3,347.3 0 1 1 262.7,696.7" stroke="#3a9aff" stroke-width="2.1" stroke-dasharray="17 12 50 15 48 38 39 35 25 26 49 35 37 28 44 23 21 35" stroke-dashoffset="105"/><path d="M827.1,1095.9A349.0,349.0 0 1 1 245.4,714.6" stroke="#0a3aa8" stroke-width="1.9" stroke-dasharray="57 36 14 46 15 32 16 50 25 45 13 36 13 9 39 49 44 44" stroke-dashoffset="204"/><path d="M808.4,1130.7A351.4,351.4 0 1 1 237.4,721.3" stroke="#74bcff" stroke-width="2.5" stroke-dasharray="56 45 15 14 20 37 11 47 55 12 55 19 21 19 18 31 54 14" stroke-dashoffset="6"/><path d="M825.0,1109.3A353.8,353.8 0 1 1 224.4,735.6" stroke="#06308f" stroke-width="1.8" stroke-dasharray="41 34 57 12 36 48 12 13 53 48 11 9 51 37 36 32 48 42" stroke-dashoffset="287"/><path d="M824.3,1114.0A355.6,355.6 0 1 1 230.0,724.2" stroke="#0a44b8" stroke-width="1.7" stroke-dasharray="28 17 30 46 22 10 28 38 36 23 43 47 31 16 21 27 21 47" stroke-dashoffset="196"/><path d="M802.8,1148.8A357.5,357.5 0 0 1 212.6,747.4" stroke="#74bcff" stroke-width="2.6" stroke-dasharray="54 16 22 21 26 39 44 41 37 11 48 18 21 25 59 24 28 46" stroke-dashoffset="126"/><path d="M787.3,1171.7A360.4,360.4 0 0 1 208.2,749.4" stroke="#0a44b8" stroke-width="1.6" stroke-dasharray="20 46 38 48 13 49 56 10 12 48 31 15 13 15 35 17 26 14" stroke-dashoffset="214"/><path d="M788.4,1173.0A362.1,362.1 0 0 1 201.2,758.3" stroke="#2a8cff" stroke-width="2.3" stroke-dasharray="44 45 46 48 33 24 16 19 57 11 19 23 12 21 19 13 36 31" stroke-dashoffset="158"/><path d="M815.6,1142.3A363.9,363.9 0 0 1 209.7,739.8" stroke="#06308f" stroke-width="1.9" stroke-dasharray="14 21 48 47 35 15 27 32 25 41 59 27 40 44 33 16 57 49" stroke-dashoffset="175"/><path d="M814.6,1146.4A365.5,365.5 0 0 1 215.8,727.3" stroke="#0a44b8" stroke-width="1.8" stroke-dasharray="30 43 58 9 31 48 41 11 11 22 18 49 27 44 38 37 23 39" stroke-dashoffset="265"/><path d="M822.5,1139.2A367.8,367.8 0 0 1 197.7,752.9" stroke="#0a3aa8" stroke-width="2.2" stroke-dasharray="33 22 56 18 57 44 54 15 35 49 24 15 46 18 39 15 57 20" stroke-dashoffset="1"/><path d="M797.6,1175.1A370.3,370.3 0 0 1 216.9,717.3" stroke="#74bcff" stroke-width="2.4" stroke-dasharray="50 35 44 36 30 29 52 32 13 21 42 11 17 9 37 10 24 10" stroke-dashoffset="76"/><path d="M811.7,1161.5A372.4,372.4 0 0 1 190.3,756.8" stroke="#0a44b8" stroke-width="1.5" stroke-dasharray="38 48 34 28 25 43 35 22 20 17 52 42 59 47 44 41 46 42" stroke-dashoffset="143"/><path d="M831.0,1139.6A375.0,375.0 0 0 1 207.4,722.9" stroke="#0a44b8" stroke-width="2.3" stroke-dasharray="58 36 34 35 44 25 57 44 59 15 23 20 29 19 41 41 23 38" stroke-dashoffset="201"/><path d="M799.9,1182.7A377.1,377.1 0 0 1 201.2,728.6" stroke="#06308f" stroke-width="2.2" stroke-dasharray="48 8 23 29 56 17 46 10 54 29 59 18 41 13 18 26 33 37" stroke-dashoffset="206"/><path d="M840.6,1133.7A379.8,379.8 0 1 1 239.2,674.2" stroke="#0a44b8" stroke-width="1.9" stroke-dasharray="56 20 58 34 58 41 27 20 36 28 12 44 37 28 47 18 20 32" stroke-dashoffset="119"/><path d="M815.6,1171.6A381.8,381.8 0 0 1 182.6,751.3" stroke="#06308f" stroke-width="2.0" stroke-dasharray="53 44 37 17 56 41 56 11 31 28 31 34 50 47 35 48 39 26" stroke-dashoffset="57"/><path d="M834.3,1149.8A383.5,383.5 0 1 1 224.3,685.8" stroke="#2a8cff" stroke-width="2.4" stroke-dasharray="38 19 46 39 26 40 42 38 33 26 15 28 58 45 13 11 23 37" stroke-dashoffset="299"/><path d="M813.6,1179.6A385.4,385.4 0 0 1 218.6,689.9" stroke="#0a3aa8" stroke-width="1.8" stroke-dasharray="51 18 53 25 14 32 22 32 30 24 47 39 41 17 22 39 59 45" stroke-dashoffset="7"/><path d="M817.8,1178.2A387.7,387.7 0 1 1 231.4,671.2" stroke="#74bcff" stroke-width="2.2" stroke-dasharray="47 45 20 9 15 19 20 36 20 26 21 9 54 34 14 39 41 31" stroke-dashoffset="151"/><path d="M846.0,1144.7A390.4,390.4 0 1 1 234.0,664.3" stroke="#0a3aa8" stroke-width="2.1" stroke-dasharray="14 18 21 33 40 50 33 17 25 33 14 33 46 32 30 43 27 26" stroke-dashoffset="66"/><path d="M868.4,1110.1A392.2,392.2 0 1 1 215.7,682.6" stroke="#56aaff" stroke-width="2.4" stroke-dasharray="56 11 39 42 52 24 40 38 48 39 39 19 45 32 37 49 17 41" stroke-dashoffset="153"/><path d="M830.4,1172.9A394.2,394.2 0 1 1 219.2,675.3" stroke="#06308f" stroke-width="1.8" stroke-dasharray="58 22 56 41 35 28 55 49 44 12 12 27 38 26 11 20 32 10" stroke-dashoffset="208"/><path d="M854.9,1141.7A396.2,396.2 0 1 1 203.5,691.6" stroke="#06308f" stroke-width="2.2" stroke-dasharray="24 23 37 9 29 36 17 21 54 47 22 15 16 12 50 39 23 29" stroke-dashoffset="87"/><path d="M834.5,1174.3A398.2,398.2 0 0 1 174.2,732.4" stroke="#0a44b8" stroke-width="2.4" stroke-dasharray="26 42 55 44 45 9 56 41 24 29 28 31 40 21 42 47 49 45" stroke-dashoffset="275"/><path d="M875.6,1113.8A400.2,400.2 0 1 1 205.3,682.8" stroke="#74bcff" stroke-width="1.5" stroke-dasharray="45 17 54 45 21 23 21 38 12 37 13 43 37 32 15 10 28 49" stroke-dashoffset="31"/><path d="M846.4,1164.7A402.0,402.0 0 1 1 217.0,665.8" stroke="#2a8cff" stroke-width="2.2" stroke-dasharray="24 36 45 22 33 20 38 23 28 18 25 19 11 21 40 19 16 44" stroke-dashoffset="57"/><path d="M847.8,1167.4A404.7,404.7 0 0 1 186.1,701.3" stroke="#0a44b8" stroke-width="1.8" stroke-dasharray="50 27 46 18 51 23 23 27 39 50 50 43 24 20 30 35 12 27" stroke-dashoffset="277"/><path d="M860.2,1152.9A406.7,406.7 0 1 1 196.2,683.9" stroke="#0a3aa8" stroke-width="1.4" stroke-dasharray="57 12 35 18 39 35 54 16 15 30 27 26 38 10 24 23 58 30" stroke-dashoffset="44"/><path d="M866.4,1146.3A408.4,408.4 0 0 1 165.7,726.8" stroke="#0a44b8" stroke-width="2.1" stroke-dasharray="38 47 32 40 40 32 19 27 55 36 21 27 37 22 39 35 11 17" stroke-dashoffset="73"/><path d="M886.0,1117.3A411.1,411.1 0 1 1 195.8,677.2" stroke="#0a44b8" stroke-width="1.8" stroke-dasharray="36 49 19 16 50 17 18 22 46 38 50 35 47 45 42 49 50 46" stroke-dashoffset="35"/><path d="M888.3,1118.6A413.8,413.8 0 1 1 175.2,701.2" stroke="#74bcff" stroke-width="2.5" stroke-dasharray="25 45 43 24 42 25 43 9 40 19 20 11 23 37 29 47 43 13" stroke-dashoffset="96"/><path d="M878.2,1141.9A416.1,416.1 0 1 1 174.9,697.5" stroke="#06308f" stroke-width="1.6" stroke-dasharray="16 19 16 23 40 31 29 48 42 34 20 8 43 35 41 27 34 10" stroke-dashoffset="115"/><path d="M881.4,1140.4A418.2,418.2 0 1 1 187.1,676.9" stroke="#0a44b8" stroke-width="1.6" stroke-dasharray="18 23 54 23 13 20 41 46 22 35 17 38 17 22 59 42 40 18" stroke-dashoffset="34"/><path d="M836.4,1206.1A419.9,419.9 0 1 1 206.9,650.1" stroke="#0a44b8" stroke-width="1.6" stroke-dasharray="18 30 29 14 38 29 29 28 12 34 20 22 10 45 39 24 37 47" stroke-dashoffset="240"/><path d="M854.5,1186.6A421.6,421.6 0 1 1 208.5,645.9" stroke="#3a9aff" stroke-width="2.6" stroke-dasharray="43 19 25 18 60 12 47 35 41 44 27 19 38 13 31 37 40 36" stroke-dashoffset="252"/><path d="M850.2,1194.9A423.3,423.3 0 0 1 149.2,725.8" stroke="#0a44b8" stroke-width="1.9" stroke-dasharray="30 32 17 41 13 34 24 22 40 16 32 44 59 19 28 37 19 44" stroke-dashoffset="182"/><path d="M834.8,1216.8A425.8,425.8 0 0 1 147.6,723.5" stroke="#0a44b8" stroke-width="2.5" stroke-dasharray="41 35 33 29 11 26 56 42 19 27 34 36 23 32 22 38 49 31" stroke-dashoffset="197"/><path d="M864.7,1183.9A428.1,428.1 0 1 1 195.1,651.1" stroke="#06308f" stroke-width="2.0" stroke-dasharray="44 26 52 31 20 36 28 35 28 47 17 36 23 19 33 43 57 10" stroke-dashoffset="30"/><path d="M865.0,1186.5A429.9,429.9 0 0 1 168.5,682.5" stroke="#2a8cff" stroke-width="2.0" stroke-dasharray="27 12 45 44 56 24 42 24 31 35 22 10 37 22 32 20 31 17" stroke-dashoffset="79"/><path d="M839.8,1220.5A432.1,432.1 0 0 1 162.2,687.7" stroke="#74bcff" stroke-width="2.0" stroke-dasharray="13 14 40 37 60 41 25 27 35 42 30 47 34 25 34 23 60 10" stroke-dashoffset="289"/><path d="M843.0,1220.5A434.4,434.4 0 0 1 153.1,697.5" stroke="#0a44b8" stroke-width="2.1" stroke-dasharray="15 18 17 35 26 24 56 39 10 15 17 15 16 45 47 32 18 22" stroke-dashoffset="15"/><path d="M846.9,1218.7A436.1,436.1 0 0 1 184.5,651.3" stroke="#0a44b8" stroke-width="1.8" stroke-dasharray="49 13 12 35 34 46 50 17 12 33 34 21 56 17 42 11 56 48" stroke-dashoffset="217"/><path d="M852.6,1214.5A437.7,437.7 0 0 1 160.5,680.4" stroke="#0a44b8" stroke-width="1.7" stroke-dasharray="35 14 37 48 53 18 38 21 18 39 48 22 31 37 46 27 16 12" stroke-dashoffset="126"/><path d="M857.7,1211.3A439.5,439.5 0 0 1 172.8,660.5" stroke="#2a8cff" stroke-width="1.8" stroke-dasharray="14 17 40 18 14 29 36 49 51 41 49 26 22 49 56 41 16 19" stroke-dashoffset="254"/><path d="M859.7,1213.1A442.2,442.2 0 1 1 191.0,634.6" stroke="#56aaff" stroke-width="2.2" stroke-dasharray="29 35 23 21 15 42 56 21 29 13 17 35 55 12 23 40 21 45" stroke-dashoffset="283"/><path d="M856.2,1221.1A444.8,444.8 0 0 1 161.0,667.4" stroke="#0a44b8" stroke-width="1.8" stroke-dasharray="25 28 20 32 49 29 11 26 14 39 38 18 33 28 26 30 32 19" stroke-dashoffset="277"/><path d="M855.3,1224.8A446.5,446.5 0 0 1 162.2,663.0" stroke="#74bcff" stroke-width="2.4" stroke-dasharray="50 12 38 12 15 25 18 50 39 46 58 40 42 28 49 36 18 30" stroke-dashoffset="223"/><path d="M867.5,1214.4A449.1,449.1 0 0 1 158.8,663.2" stroke="#0a44b8" stroke-width="1.5" stroke-dasharray="48 27 51 39 53 48 49 13 17 15 39 34 40 12 27 26 35 24" stroke-dashoffset="80"/><path d="M890.3,1188.4A451.5,451.5 0 1 1 156.4,662.2" stroke="#0a44b8" stroke-width="2.2" stroke-dasharray="31 30 20 27 23 36 15 14 20 30 39 8 59 43 29 15 51 49" stroke-dashoffset="262"/><path d="M915.2,1153.3A453.9,453.9 0 1 1 150.1,667.0" stroke="#56aaff" stroke-width="2.6" stroke-dasharray="28 26 56 12 10 43 55 12 24 44 37 23 58 9 49 41 35 48" stroke-dashoffset="209"/><path d="M921.5,1146.5A456.2,456.2 0 1 1 125.0,701.7" stroke="#0a44b8" stroke-width="2.3" stroke-dasharray="56 31 55 36 21 23 14 17 16 41 13 37 41 22 19 22 32 40" stroke-dashoffset="237"/><path d="M888.8,1201.8A458.1,458.1 0 0 1 131.9,686.5" stroke="#3a9aff" stroke-width="2.5" stroke-dasharray="48 39 25 27 28 28 50 19 51 47 40 48 57 15 60 16 50 13" stroke-dashoffset="23"/><path d="M911.4,1171.3A459.8,459.8 0 0 1 111.3,719.3" stroke="#3a9aff" stroke-width="1.9" stroke-dasharray="31 42 12 20 56 42 30 11 53 25 31 25 40 26 35 41 25 19" stroke-dashoffset="170"/><path d="M914.9,1170.2A462.2,462.2 0 1 1 133.4,676.6" stroke="#2a8cff" stroke-width="1.5" stroke-dasharray="27 29 29 19 13 20 25 13 11 28 11 45 28 27 36 9 15 41" stroke-dashoffset="116"/><path d="M869.1,1237.2A465.1,465.1 0 0 1 159.4,636.3" stroke="#0a44b8" stroke-width="2.5" stroke-dasharray="45 41 17 21 58 46 52 30 59 47 52 43 37 31 54 33 17 8" stroke-dashoffset="81"/><path d="M906.4,1191.9A466.7,466.7 0 0 1 121.5,687.0" stroke="#74bcff" stroke-width="2.5" stroke-dasharray="42 42 32 22 55 24 45 41 58 25 33 47 39 37 14 27 22 15" stroke-dashoffset="37"/><path d="M864.0,1249.0A469.2,469.2 0 0 1 172.6,614.7" stroke="#06308f" stroke-width="1.6" stroke-dasharray="15 22 31 28 32 33 57 47 55 43 21 18 33 35 40 23 60 21" stroke-dashoffset="280"/><path d="M927.1,1168.7A472.0,472.0 0 1 1 113.9,689.6" stroke="#0a44b8" stroke-width="1.6" stroke-dasharray="43 12 16 11 54 31 32 20 55 32 16 23 55 40 58 33 45 39" stroke-dashoffset="291"/><path d="M898.0,1217.3A474.8,474.8 0 0 1 101.1,706.5" stroke="#56aaff" stroke-width="2.2" stroke-dasharray="58 47 52 44 51 32 14 39 52 43 12 11 47 28 55 50 32 36" stroke-dashoffset="110"/><path d="M922.0,1187.7A477.5,477.5 0 0 1 117.0,674.0" stroke="#0a44b8" stroke-width="2.3" stroke-dasharray="46 42 33 17 33 37 37 13 10 25 22 18 21 25 45 46 44 9" stroke-dashoffset="184"/><path d="M905.2,1215.0A479.1,479.1 0 1 1 156.5,617.9" stroke="#56aaff" stroke-width="2.1" stroke-dasharray="43 10 44 46 43 33 50 48 51 50 33 9 41 35 53 34 28 8" stroke-dashoffset="296"/><path d="M908.6,1214.6A481.7,481.7 0 0 1 110.7,676.1" stroke="#56aaff" stroke-width="2.1" stroke-dasharray="60 27 55 25 11 22 28 50 30 20 45 12 25 25 16 33 31 42" stroke-dashoffset="205"/><path d="M874.7,1258.8A483.7,483.7 0 0 1 146.3,623.0" stroke="#0a44b8" stroke-width="2.3" stroke-dasharray="36 25 44 22 53 34 45 23 30 46 58 41 50 50 17 21 29 23" stroke-dashoffset="252"/><path d="M935.8,1180.4A485.4,485.4 0 1 1 149.2,616.8" stroke="#0a44b8" stroke-width="2.5" stroke-dasharray="38 34 40 14 58 29 23 49 29 11 43 19 21 21 40 21 43 46" stroke-dashoffset="276"/><path d="M901.0,1233.4A487.1,487.1 0 0 1 137.4,628.6" stroke="#2a8cff" stroke-width="2.2" stroke-dasharray="39 11 15 48 16 38 36 8 50 11 54 42 35 27 11 37 12 30" stroke-dashoffset="35"/><path d="M929.0,1198.0A489.0,489.0 0 1 1 162.0,596.9" stroke="#06308f" stroke-width="2.2" stroke-dasharray="49 32 31 30 24 20 54 23 49 23 20 8 58 40 59 33 13 15" stroke-dashoffset="100"/><path d="M882.1,1261.5A490.9,490.9 0 0 1 153.2,603.7" stroke="#0a44b8" stroke-width="1.7" stroke-dasharray="14 9 52 15 39 25 37 45 25 16 32 27 28 34 36 18 16 22" stroke-dashoffset="47"/><path d="M929.1,1206.4A493.7,493.7 0 0 1 88.2,690.7" stroke="#2a8cff" stroke-width="1.5" stroke-dasharray="37 10 28 46 13 20 12 45 28 11 28 17 32 34 43 12 37 10" stroke-dashoffset="222"/><path d="M884.2,1266.7A496.0,496.0 0 0 1 89.3,684.1" stroke="#2a8cff" stroke-width="2.5" stroke-dasharray="51 19 37 24 22 27 17 28 59 13 53 17 59 29 27 44 36 10" stroke-dashoffset="117"/><path d="M917.5,1230.8A498.5,498.5 0 0 1 86.4,684.1" stroke="#0a44b8" stroke-width="1.9" stroke-dasharray="57 17 10 13 14 42 40 28 16 35 17 14 40 35 50 43 17 21" stroke-dashoffset="156"/><path d="M887.7,1270.6A501.2,501.2 0 0 1 143.0,599.8" stroke="#3a9aff" stroke-width="1.8" stroke-dasharray="43 45 19 29 46 43 26 16 32 27 32 14 24 40 58 20 20 40" stroke-dashoffset="165"/><path d="M938.4,1210.1A503.5,503.5 0 0 1 80.5,684.4" stroke="#0a44b8" stroke-width="1.5" stroke-dasharray="41 31 37 23 60 40 34 17 14 24 35 41 57 13 41 43 44 38" stroke-dashoffset="24"/><path d="M937.1,1216.8A506.1,506.1 0 0 1 83.4,673.9" stroke="#74bcff" stroke-width="2.4" stroke-dasharray="40 44 38 15 24 43 39 35 42 10 20 26 52 48 40 19 12 31" stroke-dashoffset="154"/><path d="M955.1,1192.6A508.2,508.2 0 1 1 116.0,621.7" stroke="#0a44b8" stroke-width="2.5" stroke-dasharray="15 43 30 35 28 22 19 16 59 30 46 32 23 16 47 42 21 31" stroke-dashoffset="175"/><path d="M954.8,1196.9A510.2,510.2 0 1 1 145.9,583.1" stroke="#56aaff" stroke-width="1.5" stroke-dasharray="16 10 41 18 15 41 17 40 24 23 57 43 52 49 40 47 41 32" stroke-dashoffset="181"/><path d="M901.7,1271.6A512.2,512.2 0 0 1 98.1,639.6" stroke="#3a9aff" stroke-width="1.4" stroke-dasharray="18 45 43 18 16 14 50 20 55 42 12 15 49 33 25 32 26 12" stroke-dashoffset="119"/><path d="M932.1,1238.9A515.0,515.0 0 0 1 102.2,628.9" stroke="#0a3aa8" stroke-width="2.1" stroke-dasharray="41 37 44 43 10 36 19 38 39 37 50 41 34 14 35 30 36 20" stroke-dashoffset="292"/><path d="M914.1,1265.5A517.6,517.6 0 0 1 110.8,613.1" stroke="#74bcff" stroke-width="2.6" stroke-dasharray="24 24 32 39 46 16 58 49 35 50 41 24 14 9 40 38 41 41" stroke-dashoffset="146"/><path d="M908.9,1274.5A519.6,519.6 0 0 1 90.1,638.1" stroke="#2a8cff" stroke-width="1.4" stroke-dasharray="52 19 53 31 12 28 46 39 30 34 25 9 18 42 19 32 21 20" stroke-dashoffset="293"/></g>
</g>
<g mask="url(#mLowDark)">
<g fill="none" opacity="0.9"><path d="M537.6,1079.0A150.0,150.0 0 0 1 399.5,840.7" stroke="#000000" stroke-width="2.0" stroke-dasharray="3 12 7 30 4 12 5 32 4 32 9 12 8 22 7 40 4 9" stroke-dashoffset="62"/><path d="M542.1,1081.1A152.7,152.7 0 0 1 396.7,839.9" stroke="#000410" stroke-width="2.2" stroke-dasharray="10 21 9 10 3 14 4 13 10 20 4 25 7 34 5 22 6 19" stroke-dashoffset="79"/><path d="M546.7,1083.6A155.9,155.9 0 0 1 391.2,842.2" stroke="#001050" stroke-width="2.4" stroke-dasharray="9 18 5 32 4 33 11 26 11 35 6 14 3 33 6 39 9 17" stroke-dashoffset="297"/><path d="M520.7,1089.7A159.7,159.7 0 0 1 392.0,834.6" stroke="#000000" stroke-width="2.6" stroke-dasharray="7 33 8 12 4 39 4 14 6 31 11 23 7 33 6 20 9 28" stroke-dashoffset="146"/><path d="M533.6,1092.3A162.9,162.9 0 0 1 392.3,828.9" stroke="#000410" stroke-width="2.3" stroke-dasharray="10 9 7 33 7 16 4 27 7 40 4 26 9 38 11 33 12 36" stroke-dashoffset="168"/><path d="M543.4,1094.4A166.1,166.1 0 0 1 386.3,831.5" stroke="#001050" stroke-width="1.8" stroke-dasharray="5 14 9 18 10 18 6 25 6 14 6 20 10 9 9 31 5 16" stroke-dashoffset="267"/><path d="M528.9,1099.8A170.1,170.1 0 0 1 380.1,833.3" stroke="#000410" stroke-width="1.7" stroke-dasharray="5 38 3 23 10 17 8 22 9 15 3 22 9 16 6 18 12 12" stroke-dashoffset="75"/><path d="M526.9,1103.1A173.3,173.3 0 0 1 384.1,822.6" stroke="#00208a" stroke-width="2.5" stroke-dasharray="11 17 5 9 7 18 7 8 3 20 10 18 11 27 7 33 5 27" stroke-dashoffset="255"/><path d="M556.5,1101.7A175.5,175.5 0 0 1 369.5,839.7" stroke="#001050" stroke-width="2.8" stroke-dasharray="11 24 6 23 11 16 10 21 5 36 10 10 8 39 5 35 7 37" stroke-dashoffset="239"/><path d="M537.3,1107.9A178.7,178.7 0 0 1 369.7,833.3" stroke="#001050" stroke-width="1.9" stroke-dasharray="12 13 3 18 3 21 8 22 4 9 10 22 7 23 9 37 10 31" stroke-dashoffset="298"/><path d="M554.3,1109.5A182.8,182.8 0 0 1 372.8,821.6" stroke="#001050" stroke-width="2.5" stroke-dasharray="7 36 9 14 5 10 11 22 11 21 10 12 12 33 12 25 6 16" stroke-dashoffset="136"/><path d="M527.7,1116.5A186.7,186.7 0 0 1 365.6,825.1" stroke="#000000" stroke-width="2.4" stroke-dasharray="11 12 6 15 6 39 7 18 5 22 9 19 5 15 5 37 5 32" stroke-dashoffset="93"/><path d="M522.4,1119.3A189.3,189.3 0 0 1 358.1,831.9" stroke="#000410" stroke-width="2.3" stroke-dasharray="8 19 11 36 7 13 7 13 5 18 11 18 4 18 9 35 10 30" stroke-dashoffset="178"/><path d="M520.6,1122.6A192.6,192.6 0 0 1 361.9,820.1" stroke="#000410" stroke-width="2.4" stroke-dasharray="10 27 8 35 12 16 4 28 4 39 7 25 10 36 4 23 5 23" stroke-dashoffset="175"/><path d="M518.1,1125.2A195.2,195.2 0 0 1 355.5,824.9" stroke="#000000" stroke-width="1.7" stroke-dasharray="7 8 6 32 9 23 6 15 4 23 7 38 4 37 10 37 8 34" stroke-dashoffset="243"/><path d="M538.8,1126.9A197.8,197.8 0 0 1 367.2,804.4" stroke="#000410" stroke-width="2.6" stroke-dasharray="4 21 6 10 6 34 4 21 8 13 3 10 4 39 11 31 11 18" stroke-dashoffset="290"/><path d="M545.5,1129.4A201.0,201.0 0 0 1 371.3,794.7" stroke="#001050" stroke-width="2.7" stroke-dasharray="7 40 9 39 9 28 5 15 3 31 8 29 11 17 5 15 7 17" stroke-dashoffset="83"/><path d="M564.3,1128.9A203.8,203.8 0 0 1 345.0,825.5" stroke="#000000" stroke-width="2.3" stroke-dasharray="11 19 9 14 7 25 10 9 8 25 8 35 7 24 9 38 11 33" stroke-dashoffset="230"/><path d="M564.2,1132.6A207.3,207.3 0 0 1 356.1,803.1" stroke="#000000" stroke-width="1.6" stroke-dasharray="12 38 6 39 6 22 4 27 7 30 12 12 9 27 5 9 11 30" stroke-dashoffset="119"/><path d="M523.1,1139.7A209.8,209.8 0 0 1 344.3,815.4" stroke="#000410" stroke-width="1.9" stroke-dasharray="4 24 9 20 6 34 4 20 4 17 5 12 4 26 4 15 3 26" stroke-dashoffset="213"/><path d="M529.5,1143.5A213.7,213.7 0 0 1 355.3,793.9" stroke="#00208a" stroke-width="2.8" stroke-dasharray="3 26 4 12 8 11 4 12 6 35 6 12 10 34 12 10 4 22" stroke-dashoffset="149"/><path d="M551.5,1145.3A217.6,217.6 0 0 1 343.4,802.8" stroke="#001050" stroke-width="2.2" stroke-dasharray="8 29 3 10 8 19 11 25 9 13 7 13 8 36 4 25 9 20" stroke-dashoffset="159"/><path d="M526.2,1151.5A221.6,221.6 0 0 1 328.8,818.0" stroke="#000000" stroke-width="1.9" stroke-dasharray="8 11 8 13 3 13 10 12 4 33 9 35 10 31 6 34 5 17" stroke-dashoffset="260"/><path d="M543.6,1153.2A224.5,224.5 0 0 1 339.4,796.6" stroke="#001050" stroke-width="1.9" stroke-dasharray="4 28 7 18 9 16 4 33 11 34 8 31 11 9 6 19 10 19" stroke-dashoffset="284"/><path d="M544.0,1156.7A227.9,227.9 0 0 1 327.0,808.7" stroke="#000000" stroke-width="2.1" stroke-dasharray="10 26 5 22 8 10 10 18 11 20 12 31 7 30 3 11 8 18" stroke-dashoffset="273"/><path d="M560.3,1158.0A231.6,231.6 0 0 1 314.2,823.9" stroke="#000000" stroke-width="2.2" stroke-dasharray="5 27 10 10 9 37 6 22 8 31 9 25 9 11 9 22 6 30" stroke-dashoffset="76"/><path d="M554.4,1162.8A235.4,235.4 0 0 1 325.8,796.9" stroke="#00208a" stroke-width="2.7" stroke-dasharray="6 31 11 21 8 31 9 20 5 17 3 28 9 33 7 31 8 35" stroke-dashoffset="288"/><path d="M530.3,1168.3A238.5,238.5 0 0 1 308.2,820.3" stroke="#000410" stroke-width="2.0" stroke-dasharray="3 23 6 18 11 16 7 38 6 34 9 37 3 20 3 37 9 17" stroke-dashoffset="69"/><path d="M557.7,1168.7A241.7,241.7 0 0 1 341.9,766.7" stroke="#001050" stroke-width="2.2" stroke-dasharray="11 32 9 35 12 17 12 37 7 12 8 24 12 16 9 32 8 17" stroke-dashoffset="196"/><path d="M542.0,1173.4A244.4,244.4 0 0 1 306.7,810.7" stroke="#00208a" stroke-width="1.9" stroke-dasharray="5 27 5 33 7 39 7 10 11 15 12 39 7 37 9 36 6 23" stroke-dashoffset="89"/><path d="M533.0,1176.6A247.0,247.0 0 0 1 327.6,775.2" stroke="#001050" stroke-width="2.5" stroke-dasharray="12 32 8 12 4 28 9 8 12 20 5 28 11 19 8 10 7 37" stroke-dashoffset="277"/><path d="M544.1,1178.9A250.1,250.1 0 0 1 331.8,765.3" stroke="#000000" stroke-width="2.8" stroke-dasharray="4 16 12 19 3 35 8 17 10 39 7 10 8 25 12 38 5 39" stroke-dashoffset="133"/><path d="M524.4,1183.8A253.8,253.8 0 0 1 324.7,767.9" stroke="#00208a" stroke-width="2.1" stroke-dasharray="3 21 8 16 10 28 11 12 5 18 8 16 8 19 4 34 8 37" stroke-dashoffset="213"/><path d="M527.8,1186.7A256.8,256.8 0 0 1 317.3,772.3" stroke="#000410" stroke-width="2.1" stroke-dasharray="7 28 10 13 12 12 8 25 5 10 7 31 4 34 6 11 11 28" stroke-dashoffset="115"/><path d="M506.4,1190.6A261.0,261.0 0 0 1 323.1,758.8" stroke="#000000" stroke-width="1.6" stroke-dasharray="8 19 4 22 8 30 3 14 9 33 11 12 10 22 8 30 7 27" stroke-dashoffset="165"/><path d="M530.7,1193.5A263.7,263.7 0 0 1 318.6,759.8" stroke="#00208a" stroke-width="1.6" stroke-dasharray="10 37 7 26 6 40 5 30 12 39 11 22 11 35 7 20 6 18" stroke-dashoffset="188"/><path d="M534.6,1196.1A266.5,266.5 0 0 1 323.3,750.2" stroke="#000000" stroke-width="2.8" stroke-dasharray="10 22 7 39 9 12 5 27 9 12 8 29 11 11 11 23 4 34" stroke-dashoffset="278"/><path d="M554.6,1196.8A269.0,269.0 0 0 1 312.4,758.9" stroke="#000410" stroke-width="2.2" stroke-dasharray="5 13 5 17 8 36 6 18 7 38 8 39 6 26 9 31 11 12" stroke-dashoffset="8"/><path d="M520.1,1202.7A272.7,272.7 0 0 1 293.7,777.9" stroke="#000000" stroke-width="2.2" stroke-dasharray="5 16 7 22 9 30 9 14 12 8 4 36 9 12 6 15 7 33" stroke-dashoffset="129"/><path d="M577.2,1199.5A275.5,275.5 0 0 1 315.9,745.0" stroke="#000000" stroke-width="2.1" stroke-dasharray="6 27 11 38 3 20 9 24 10 38 3 30 5 29 5 12 11 29" stroke-dashoffset="76"/><path d="M543.6,1208.3A279.3,279.3 0 0 1 276.7,792.9" stroke="#001050" stroke-width="2.2" stroke-dasharray="10 11 3 23 4 28 6 33 4 24 7 15 6 14 6 22 7 29" stroke-dashoffset="60"/><path d="M531.8,1212.9A283.1,283.1 0 0 1 279.8,780.2" stroke="#001050" stroke-width="2.4" stroke-dasharray="3 17 11 27 6 9 5 35 4 30 4 32 4 12 5 38 3 23" stroke-dashoffset="5"/><path d="M559.5,1213.0A285.8,285.8 0 0 1 290.2,760.1" stroke="#000000" stroke-width="2.4" stroke-dasharray="4 12 8 32 11 28 7 37 5 38 12 25 10 28 9 30 9 30" stroke-dashoffset="128"/><path d="M572.3,1214.2A289.0,289.0 0 0 1 273.5,779.2" stroke="#00208a" stroke-width="1.7" stroke-dasharray="7 23 10 30 5 26 9 21 6 28 10 18 12 36 8 9 9 27" stroke-dashoffset="245"/><path d="M546.5,1221.6A292.8,292.8 0 0 1 259.5,796.4" stroke="#000000" stroke-width="2.6" stroke-dasharray="7 22 11 35 6 35 12 30 5 25 8 17 10 12 5 38 6 13" stroke-dashoffset="132"/><path d="M547.5,1223.8A295.0,295.0 0 0 1 303.8,729.2" stroke="#000410" stroke-width="2.4" stroke-dasharray="11 38 9 30 7 18 10 33 4 12 4 31 7 10 8 38 10 31" stroke-dashoffset="51"/><path d="M541.9,1226.7A297.5,297.5 0 0 1 267.0,773.4" stroke="#000000" stroke-width="2.2" stroke-dasharray="12 36 9 13 7 27 11 23 4 9 5 38 6 22 5 39 11 12" stroke-dashoffset="194"/><path d="M572.4,1225.6A300.2,300.2 0 0 1 280.1,749.6" stroke="#000000" stroke-width="1.9" stroke-dasharray="5 29 8 28 9 35 7 11 5 8 5 38 11 20 6 22 6 8" stroke-dashoffset="219"/><path d="M570.2,1229.6A303.7,303.7 0 0 1 288.2,733.7" stroke="#000000" stroke-width="2.3" stroke-dasharray="5 20 9 15 9 23 4 31 7 32 6 37 6 30 8 32 3 12" stroke-dashoffset="204"/><path d="M566.1,1232.8A306.3,306.3 0 0 1 250.0,785.3" stroke="#00208a" stroke-width="2.2" stroke-dasharray="9 38 11 32 6 21 11 24 5 19 4 39 6 23 4 28 4 14" stroke-dashoffset="167"/><path d="M511.8,1239.1A309.2,309.2 0 0 1 246.4,785.9" stroke="#000000" stroke-width="2.3" stroke-dasharray="6 37 9 23 8 31 10 32 6 21 6 20 10 22 3 32 6 31" stroke-dashoffset="5"/><path d="M552.5,1240.8A312.5,312.5 0 0 1 252.0,769.4" stroke="#001050" stroke-width="2.1" stroke-dasharray="3 10 11 30 9 14 5 18 10 15 8 35 4 21 5 27 6 39" stroke-dashoffset="139"/><path d="M567.6,1241.6A315.2,315.2 0 0 1 267.4,741.5" stroke="#00208a" stroke-width="1.6" stroke-dasharray="6 19 5 15 6 26 6 24 4 24 6 24 4 18 8 16 4 23" stroke-dashoffset="255"/><path d="M565.4,1245.9A319.1,319.1 0 0 1 270.9,730.5" stroke="#000000" stroke-width="2.5" stroke-dasharray="3 31 7 39 7 29 8 17 7 25 11 15 8 33 3 22 4 18" stroke-dashoffset="34"/><path d="M590.9,1245.2A323.1,323.1 0 0 1 278.2,715.7" stroke="#001050" stroke-width="1.9" stroke-dasharray="4 36 11 11 9 17 10 20 11 31 5 24 8 21 11 12 11 38" stroke-dashoffset="107"/><path d="M575.1,1251.4A326.1,326.1 0 0 1 249.0,748.6" stroke="#001050" stroke-width="2.6" stroke-dasharray="9 13 3 26 4 38 6 14 8 13 7 15 9 25 11 23 7 21" stroke-dashoffset="285"/><path d="M575.2,1255.4A330.1,330.1 0 0 1 230.0,772.4" stroke="#001050" stroke-width="2.7" stroke-dasharray="6 19 4 29 11 14 5 13 11 15 11 38 9 38 11 24 8 12" stroke-dashoffset="31"/><path d="M536.4,1263.3A333.7,333.7 0 0 1 246.5,738.9" stroke="#00208a" stroke-width="1.9" stroke-dasharray="5 8 12 16 8 31 11 8 4 19 8 34 11 37 9 16 11 30" stroke-dashoffset="12"/><path d="M588.1,1259.6A336.5,336.5 0 0 1 225.1,767.8" stroke="#000410" stroke-width="2.2" stroke-dasharray="7 10 10 32 3 29 8 25 4 26 8 28 7 27 10 11 3 19" stroke-dashoffset="177"/><path d="M541.0,1269.6A340.3,340.3 0 0 1 255.2,716.3" stroke="#000000" stroke-width="2.8" stroke-dasharray="6 29 4 29 5 24 12 22 7 10 5 19 10 29 12 31 5 39" stroke-dashoffset="109"/><path d="M522.0,1273.0A343.0,343.0 0 0 1 221.6,760.9" stroke="#000000" stroke-width="2.2" stroke-dasharray="12 16 4 36 4 34 12 29 10 39 12 30 3 11 10 33 10 25" stroke-dashoffset="144"/><path d="M502.4,1275.2A345.6,345.6 0 0 1 257.5,705.1" stroke="#000000" stroke-width="2.7" stroke-dasharray="6 19 12 40 8 21 4 23 4 35 8 15 7 10 7 34 11 15" stroke-dashoffset="35"/><path d="M577.1,1274.4A349.1,349.1 0 0 1 238.2,724.0" stroke="#001050" stroke-width="1.9" stroke-dasharray="11 25 12 37 10 37 11 12 4 24 4 11 5 13 9 9 10 21" stroke-dashoffset="191"/><path d="M511.3,1281.3A351.4,351.4 0 0 1 248.7,706.7" stroke="#000000" stroke-width="2.0" stroke-dasharray="11 34 6 8 9 12 10 16 10 38 12 31 7 26 4 18 8 19" stroke-dashoffset="215"/><path d="M556.8,1283.4A355.3,355.3 0 0 1 254.7,693.6" stroke="#000000" stroke-width="2.7" stroke-dasharray="10 30 3 9 5 26 12 27 6 32 3 24 5 18 7 18 4 36" stroke-dashoffset="90"/><path d="M566.4,1286.4A359.4,359.4 0 0 1 236.1,709.7" stroke="#000000" stroke-width="2.4" stroke-dasharray="5 39 8 23 7 13 7 25 5 24 6 22 4 20 8 37 6 17" stroke-dashoffset="28"/><path d="M503.6,1293.1A363.5,363.5 0 0 1 228.4,713.0" stroke="#000410" stroke-width="1.7" stroke-dasharray="9 25 10 14 6 10 6 27 9 28 4 16 12 22 8 37 8 37" stroke-dashoffset="273"/><path d="M582.3,1291.0A366.4,366.4 0 0 1 235.6,699.1" stroke="#000000" stroke-width="1.9" stroke-dasharray="4 31 8 30 4 14 4 9 4 28 10 20 8 39 6 25 11 16" stroke-dashoffset="161"/><path d="M538.7,1299.0A369.5,369.5 0 0 1 235.1,694.8" stroke="#00208a" stroke-width="2.6" stroke-dasharray="6 19 5 30 10 27 11 24 8 31 10 14 4 18 9 11 10 18" stroke-dashoffset="286"/><path d="M546.5,1302.5A373.5,373.5 0 0 1 193.0,749.5" stroke="#000410" stroke-width="2.1" stroke-dasharray="7 38 10 23 9 15 11 34 10 20 3 34 5 12 10 14 10 19" stroke-dashoffset="159"/><path d="M555.1,1305.7A377.4,377.4 0 0 1 239.0,678.1" stroke="#00208a" stroke-width="2.4" stroke-dasharray="6 22 3 29 9 39 9 11 3 23 8 11 11 26 6 16 8 20" stroke-dashoffset="192"/><path d="M530.8,1311.0A381.1,381.1 0 0 1 237.6,674.1" stroke="#001050" stroke-width="2.0" stroke-dasharray="9 25 6 12 4 19 7 14 8 32 4 29 6 9 11 13 8 21" stroke-dashoffset="248"/><path d="M510.4,1314.6A384.7,384.7 0 0 1 228.5,678.9" stroke="#000000" stroke-width="2.1" stroke-dasharray="10 25 4 36 8 30 7 28 12 17 6 29 10 10 11 30 8 18" stroke-dashoffset="142"/><path d="M522.2,1317.4A387.4,387.4 0 0 1 205.8,703.4" stroke="#001050" stroke-width="2.1" stroke-dasharray="6 16 5 9 11 39 6 22 3 18 6 15 11 11 9 37 12 34" stroke-dashoffset="274"/><path d="M500.3,1319.3A389.8,389.8 0 0 1 214.9,687.3" stroke="#001050" stroke-width="2.1" stroke-dasharray="11 10 4 17 6 17 4 37 10 32 10 17 9 29 9 11 9 20" stroke-dashoffset="21"/><path d="M582.6,1318.6A393.6,393.6 0 0 1 188.0,718.7" stroke="#000000" stroke-width="2.4" stroke-dasharray="4 27 6 36 8 11 9 24 8 24 7 40 8 27 12 12 6 16" stroke-dashoffset="290"/><path d="M510.0,1326.6A396.7,396.7 0 0 1 203.4,690.9" stroke="#000000" stroke-width="1.9" stroke-dasharray="8 16 8 9 6 14 11 17 5 34 10 31 11 26 11 19 9 33" stroke-dashoffset="100"/><path d="M503.8,1330.1A400.4,400.4 0 0 1 199.8,689.5" stroke="#001050" stroke-width="2.7" stroke-dasharray="6 20 8 12 3 22 4 21 4 18 5 37 4 23 11 17 8 35" stroke-dashoffset="193"/><path d="M583.4,1328.6A403.6,403.6 0 0 1 168.1,732.2" stroke="#000410" stroke-width="2.1" stroke-dasharray="7 33 12 38 8 16 5 11 4 24 6 17 10 14 6 39 7 25" stroke-dashoffset="222"/><path d="M525.0,1336.8A406.9,406.9 0 0 1 169.3,723.7" stroke="#000410" stroke-width="2.0" stroke-dasharray="11 14 7 35 8 34 9 29 9 28 11 26 8 27 9 23 8 35" stroke-dashoffset="33"/><path d="M587.2,1334.4A410.0,410.0 0 0 1 191.3,685.0" stroke="#00208a" stroke-width="2.6" stroke-dasharray="12 32 10 37 11 24 10 18 6 36 7 17 9 17 8 33 4 36" stroke-dashoffset="269"/><path d="M577.7,1339.9A414.0,414.0 0 0 1 205.1,661.3" stroke="#001050" stroke-width="2.3" stroke-dasharray="5 12 11 15 4 23 7 14 6 29 9 12 5 9 8 8 4 25" stroke-dashoffset="98"/><path d="M520.6,1346.3A416.3,416.3 0 0 1 215.4,646.2" stroke="#001050" stroke-width="1.8" stroke-dasharray="8 33 5 32 10 38 3 12 7 15 12 28 10 28 10 23 4 40" stroke-dashoffset="83"/></g>
</g></g>
<g clip-path="url(#cR)"><g mask="url(#mRlow)">
<g fill="none" opacity="0.7"><path d="M1700.0,953.2A120.0,120.0 0 1 1 1597.8,1170.0" stroke="#6ab8ff" stroke-width="2.9" stroke-dasharray="47 48 45 12 33 26 30 13 16 27 17 27 9 12 38 26 30 39" stroke-dashoffset="62"/><path d="M1701.1,951.0A122.4,122.4 0 1 1 1599.6,1173.6" stroke="#b4dcff" stroke-width="2.1" stroke-dasharray="17 39 32 44 49 20 49 32 42 15 28 41 36 15 42 30 36 30" stroke-dashoffset="30"/><path d="M1701.8,947.9A125.5,125.5 0 1 1 1582.1,1166.9" stroke="#0a4cc0" stroke-width="2.1" stroke-dasharray="42 22 24 20 21 41 31 19 12 41 38 43 18 31 47 33 48 15" stroke-dashoffset="125"/><path d="M1710.1,948.0A128.9,128.9 0 0 1 1602.4,1182.1" stroke="#1a6ee0" stroke-width="2.8" stroke-dasharray="49 42 48 31 50 39 23 49 24 16 11 28 16 47 48 17 12 30" stroke-dashoffset="167"/><path d="M1721.5,951.4A131.3,131.3 0 1 1 1578.0,1171.1" stroke="#0a4cc0" stroke-width="2.8" stroke-dasharray="8 40 36 25 15 34 42 11 48 46 39 31 26 21 44 34 10 20" stroke-dashoffset="100"/><path d="M1713.6,944.2A133.8,133.8 0 1 1 1584.0,1178.0" stroke="#8ccaff" stroke-width="3.1" stroke-dasharray="48 11 32 31 18 32 28 27 38 8 24 41 14 44 17 37 15 27" stroke-dashoffset="126"/><path d="M1722.1,944.3A137.7,137.7 0 1 1 1583.4,1182.2" stroke="#0a4cc0" stroke-width="2.5" stroke-dasharray="38 15 30 19 50 18 11 45 24 9 27 25 37 25 42 19 47 15" stroke-dashoffset="245"/><path d="M1711.8,936.2A140.3,140.3 0 1 1 1572.7,1178.3" stroke="#0a4cc0" stroke-width="2.3" stroke-dasharray="20 12 17 19 44 29 13 27 13 32 27 44 19 44 18 49 35 10" stroke-dashoffset="109"/><path d="M1728.4,942.4A142.5,142.5 0 0 1 1588.8,1190.7" stroke="#0a4cc0" stroke-width="3.0" stroke-dasharray="39 25 37 20 11 46 35 15 49 46 16 9 34 14 39 28 38 32" stroke-dashoffset="181"/><path d="M1740.7,947.9A144.9,144.9 0 0 1 1581.9,1189.6" stroke="#8ccaff" stroke-width="3.2" stroke-dasharray="12 44 17 26 21 34 30 44 26 23 35 39 47 21 45 49 49 13" stroke-dashoffset="93"/><path d="M1725.2,934.7A147.6,147.6 0 1 1 1576.4,1189.5" stroke="#0a4cc0" stroke-width="2.6" stroke-dasharray="17 35 15 21 26 10 39 28 15 47 23 48 9 20 42 25 23 29" stroke-dashoffset="187"/><path d="M1738.7,938.5A151.4,151.4 0 1 1 1563.2,1185.1" stroke="#b4dcff" stroke-width="3.0" stroke-dasharray="49 36 26 11 43 24 24 10 9 24 49 39 38 36 19 15 33 11" stroke-dashoffset="139"/><path d="M1745.6,939.9A154.2,154.2 0 0 1 1590.2,1204.4" stroke="#1a6ee0" stroke-width="2.9" stroke-dasharray="37 49 42 13 9 30 17 35 44 41 21 38 26 46 47 31 22 39" stroke-dashoffset="171"/><path d="M1739.4,931.6A157.6,157.6 0 0 1 1569.3,1196.9" stroke="#1a6ee0" stroke-width="3.1" stroke-dasharray="48 36 13 47 49 13 43 11 11 41 38 48 35 29 19 32 50 35" stroke-dashoffset="198"/><path d="M1732.3,924.6A159.9,159.9 0 0 1 1582.5,1207.0" stroke="#8ccaff" stroke-width="2.0" stroke-dasharray="43 29 39 46 19 47 33 24 10 40 26 10 9 14 9 35 48 31" stroke-dashoffset="149"/><path d="M1748.1,930.5A163.3,163.3 0 0 1 1563.9,1200.2" stroke="#0a4cc0" stroke-width="2.3" stroke-dasharray="9 15 21 43 13 15 42 36 13 43 40 16 15 36 35 33 45 17" stroke-dashoffset="180"/><path d="M1723.1,911.9A167.1,167.1 0 1 1 1568.0,1207.3" stroke="#0a4cc0" stroke-width="2.9" stroke-dasharray="46 13 29 23 17 29 49 40 12 18 24 45 27 15 31 18 10 33" stroke-dashoffset="221"/><path d="M1753.5,925.7A170.3,170.3 0 0 1 1557.6,1204.5" stroke="#3a9aff" stroke-width="3.1" stroke-dasharray="40 27 10 47 19 39 27 41 22 12 26 28 41 25 36 24 39 15" stroke-dashoffset="7"/><path d="M1750.1,919.3A173.7,173.7 0 1 1 1557.8,1208.6" stroke="#3a9aff" stroke-width="2.2" stroke-dasharray="12 39 40 34 48 48 35 47 14 21 30 30 48 35 34 34 48 25" stroke-dashoffset="81"/><path d="M1761.0,922.7A177.3,177.3 0 0 1 1578.5,1224.4" stroke="#3a9aff" stroke-width="2.6" stroke-dasharray="45 41 31 45 28 38 10 25 40 11 15 9 34 46 23 46 43 33" stroke-dashoffset="78"/><path d="M1729.1,900.7A179.7,179.7 0 1 1 1547.1,1208.5" stroke="#8ccaff" stroke-width="2.3" stroke-dasharray="15 31 49 29 21 40 25 24 17 26 39 39 46 33 39 11 13 16" stroke-dashoffset="38"/><path d="M1755.1,912.0A182.5,182.5 0 1 1 1545.1,1210.5" stroke="#3a9aff" stroke-width="2.1" stroke-dasharray="20 44 42 47 50 17 32 25 33 33 50 10 35 15 35 10 27 25" stroke-dashoffset="143"/><path d="M1741.9,900.0A186.1,186.1 0 0 1 1584.2,1236.5" stroke="#1a6ee0" stroke-width="2.1" stroke-dasharray="26 18 45 36 16 10 45 32 13 50 33 40 42 19 30 15 34 26" stroke-dashoffset="62"/><path d="M1749.2,900.8A189.0,189.0 0 1 1 1550.6,1222.1" stroke="#6ab8ff" stroke-width="2.0" stroke-dasharray="48 44 16 43 17 18 35 20 16 12 15 16 46 10 31 17 38 8" stroke-dashoffset="172"/><path d="M1741.6,893.0A192.1,192.1 0 1 1 1543.4,1221.0" stroke="#0a4cc0" stroke-width="2.7" stroke-dasharray="45 40 45 17 11 46 8 11 13 50 48 44 37 26 19 29 38 42" stroke-dashoffset="51"/><path d="M1742.5,890.2A195.1,195.1 0 1 1 1543.3,1224.6" stroke="#3a9aff" stroke-width="3.2" stroke-dasharray="42 32 18 34 36 22 47 30 44 47 29 47 15 23 17 20 47 43" stroke-dashoffset="187"/><path d="M1769.7,903.9A197.6,197.6 0 0 1 1568.6,1242.1" stroke="#8ccaff" stroke-width="3.0" stroke-dasharray="18 46 10 45 25 32 37 46 17 12 30 17 26 13 12 32 10 19" stroke-dashoffset="157"/><path d="M1740.9,883.6A200.3,200.3 0 0 1 1567.8,1244.8" stroke="#0a4cc0" stroke-width="2.2" stroke-dasharray="48 30 24 38 49 30 48 17 15 14 31 42 24 38 48 28 41 24" stroke-dashoffset="161"/><path d="M1747.0,883.6A203.0,203.0 0 1 1 1534.7,1228.3" stroke="#6ab8ff" stroke-width="3.2" stroke-dasharray="27 47 32 31 38 16 42 40 42 27 31 11 27 35 48 46 22 40" stroke-dashoffset="204"/><path d="M1754.7,885.3A205.1,205.1 0 1 1 1541.6,1235.6" stroke="#6ab8ff" stroke-width="2.2" stroke-dasharray="32 27 45 34 16 15 10 40 41 24 17 31 16 30 22 21 37 18" stroke-dashoffset="74"/><path d="M1737.1,872.7A208.6,208.6 0 1 1 1538.1,1237.4" stroke="#8ccaff" stroke-width="2.1" stroke-dasharray="12 38 46 18 33 38 30 19 16 45 36 38 34 25 40 21 44 24" stroke-dashoffset="207"/><path d="M1754.8,878.8A210.9,210.9 0 1 1 1539.1,1240.8" stroke="#1a6ee0" stroke-width="2.2" stroke-dasharray="20 34 9 26 50 39 24 46 32 42 22 24 37 40 37 14 26 21" stroke-dashoffset="211"/><path d="M1756.9,875.7A214.6,214.6 0 1 1 1548.4,1250.8" stroke="#0a4cc0" stroke-width="2.6" stroke-dasharray="24 25 30 49 38 42 46 15 50 27 11 32 14 33 21 13 32 28" stroke-dashoffset="244"/><path d="M1760.7,875.4A216.7,216.7 0 1 1 1544.0,1250.7" stroke="#1a6ee0" stroke-width="3.1" stroke-dasharray="16 27 29 11 18 37 14 11 31 10 38 13 48 38 9 41 13 34" stroke-dashoffset="106"/><path d="M1760.4,870.8A220.6,220.6 0 1 1 1534.3,1249.3" stroke="#1a6ee0" stroke-width="2.6" stroke-dasharray="45 13 17 37 43 8 21 8 48 42 17 9 13 43 41 36 30 43" stroke-dashoffset="121"/><path d="M1771.5,873.9A223.5,223.5 0 0 1 1557.7,1265.6" stroke="#3a9aff" stroke-width="2.7" stroke-dasharray="11 17 10 10 23 24 27 16 18 27 20 19 29 40 11 9 27 46" stroke-dashoffset="112"/><path d="M1765.4,867.1A226.2,226.2 0 0 1 1549.4,1264.5" stroke="#6ab8ff" stroke-width="2.4" stroke-dasharray="48 37 40 31 27 37 8 50 26 10 11 29 21 32 35 38 28 8" stroke-dashoffset="13"/><path d="M1794.4,883.9A228.3,228.3 0 0 1 1549.4,1267.0" stroke="#0a4cc0" stroke-width="2.9" stroke-dasharray="27 20 18 31 22 10 47 49 18 36 33 18 31 19 20 27 10 18" stroke-dashoffset="99"/><path d="M1794.3,879.2A232.0,232.0 0 0 1 1536.3,1263.9" stroke="#3a9aff" stroke-width="2.7" stroke-dasharray="22 46 27 45 14 25 22 41 44 14 25 15 11 13 11 21 26 46" stroke-dashoffset="12"/><path d="M1769.6,859.8A234.7,234.7 0 1 1 1531.9,1264.4" stroke="#8ccaff" stroke-width="2.4" stroke-dasharray="20 17 43 42 45 45 29 15 44 33 41 13 37 15 16 20 37 25" stroke-dashoffset="188"/><path d="M1768.6,856.0A237.5,237.5 0 0 1 1554.7,1279.7" stroke="#b4dcff" stroke-width="2.2" stroke-dasharray="44 21 32 11 10 45 23 24 49 38 15 31 28 33 19 20 48 33" stroke-dashoffset="28"/><path d="M1744.0,841.5A240.1,240.1 0 1 1 1539.8,1275.2" stroke="#1a6ee0" stroke-width="2.2" stroke-dasharray="45 15 33 23 33 29 49 26 38 17 42 44 31 16 14 39 10 49" stroke-dashoffset="139"/><path d="M1752.9,842.6A242.5,242.5 0 1 1 1524.0,1268.7" stroke="#3a9aff" stroke-width="3.1" stroke-dasharray="31 15 44 46 13 9 39 33 30 33 41 19 43 19 48 29 35 12" stroke-dashoffset="19"/><path d="M1763.6,844.9A245.0,245.0 0 1 1 1510.9,1262.8" stroke="#3a9aff" stroke-width="2.4" stroke-dasharray="33 29 31 23 46 20 23 15 20 14 35 9 18 42 44 22 39 42" stroke-dashoffset="199"/><path d="M1746.9,834.3A247.7,247.7 0 1 1 1538.6,1283.2" stroke="#3a9aff" stroke-width="2.1" stroke-dasharray="38 14 17 41 22 26 17 12 27 33 18 44 32 23 13 39 37 21" stroke-dashoffset="96"/><path d="M1792.4,854.6A251.0,251.0 0 0 1 1552.5,1293.6" stroke="#6ab8ff" stroke-width="2.3" stroke-dasharray="9 37 35 8 31 36 26 37 15 18 40 11 26 15 39 26 18 46" stroke-dashoffset="185"/><path d="M1787.2,848.8A253.1,253.1 0 1 1 1500.1,1265.0" stroke="#6ab8ff" stroke-width="2.8" stroke-dasharray="25 15 33 15 29 28 49 21 19 22 36 18 18 38 30 11 44 13" stroke-dashoffset="180"/><path d="M1799.0,853.7A255.5,255.5 0 1 1 1504.5,1271.1" stroke="#3a9aff" stroke-width="3.0" stroke-dasharray="41 17 28 11 46 9 16 36 29 10 14 22 14 38 46 46 41 43" stroke-dashoffset="238"/><path d="M1788.3,843.7A258.0,258.0 0 1 1 1503.3,1273.4" stroke="#6ab8ff" stroke-width="2.6" stroke-dasharray="9 15 39 30 29 28 9 47 32 33 29 45 28 31 42 14 43 34" stroke-dashoffset="98"/><path d="M1769.4,829.2A261.6,261.6 0 0 1 1554.7,1306.0" stroke="#6ab8ff" stroke-width="2.7" stroke-dasharray="38 24 20 49 26 26 48 9 8 43 44 37 9 34 12 33 23 15" stroke-dashoffset="209"/><path d="M1792.5,837.5A265.5,265.5 0 0 1 1521.1,1293.8" stroke="#0a4cc0" stroke-width="2.9" stroke-dasharray="31 42 31 11 12 18 49 42 20 27 49 29 21 30 15 32 11 30" stroke-dashoffset="31"/><path d="M1769.8,821.1A269.1,269.1 0 0 1 1544.2,1309.7" stroke="#1a6ee0" stroke-width="2.2" stroke-dasharray="50 33 41 43 32 31 26 43 42 44 12 15 32 38 29 30 44 46" stroke-dashoffset="59"/><path d="M1784.0,825.6A271.5,271.5 0 1 1 1492.6,1282.3" stroke="#8ccaff" stroke-width="2.4" stroke-dasharray="29 37 28 31 37 43 49 38 29 10 20 16 48 39 13 22 26 34" stroke-dashoffset="210"/><path d="M1816.1,842.5A274.5,274.5 0 0 1 1545.8,1316.3" stroke="#6ab8ff" stroke-width="2.8" stroke-dasharray="40 32 38 40 24 27 34 38 33 23 29 29 24 21 11 11 15 12" stroke-dashoffset="45"/><path d="M1816.8,838.2A278.3,278.3 0 1 1 1491.0,1289.6" stroke="#1a6ee0" stroke-width="3.0" stroke-dasharray="28 33 43 14 33 36 34 19 30 14 14 34 29 9 42 26 12 9" stroke-dashoffset="266"/><path d="M1780.4,812.8A281.2,281.2 0 1 1 1494.3,1295.5" stroke="#b4dcff" stroke-width="2.9" stroke-dasharray="26 28 30 17 24 28 9 32 11 31 10 16 27 40 50 40 42 26" stroke-dashoffset="222"/><path d="M1789.8,813.7A284.7,284.7 0 1 1 1485.0,1293.2" stroke="#b4dcff" stroke-width="2.8" stroke-dasharray="28 43 47 44 44 41 10 42 42 22 40 10 19 26 34 18 48 8" stroke-dashoffset="298"/><path d="M1828.5,835.1A287.8,287.8 0 0 1 1480.9,1294.0" stroke="#6ab8ff" stroke-width="3.1" stroke-dasharray="32 34 19 33 15 9 38 9 47 18 46 21 38 22 37 16 18 19" stroke-dashoffset="116"/><path d="M1808.7,818.5A290.2,290.2 0 0 1 1531.4,1327.0" stroke="#8ccaff" stroke-width="3.1" stroke-dasharray="34 17 22 21 17 33 17 22 14 19 41 20 49 13 9 18 30 21" stroke-dashoffset="35"/><path d="M1782.0,799.7A293.7,293.7 0 1 1 1493.8,1310.1" stroke="#6ab8ff" stroke-width="3.1" stroke-dasharray="20 49 14 48 38 25 45 10 14 45 12 43 34 9 26 10 44 13" stroke-dashoffset="202"/><path d="M1804.6,807.5A297.4,297.4 0 0 1 1507.4,1322.7" stroke="#6ab8ff" stroke-width="2.9" stroke-dasharray="13 25 36 17 32 26 42 22 11 34 17 25 18 24 24 21 34 32" stroke-dashoffset="153"/><path d="M1819.8,813.6A300.3,300.3 0 0 1 1524.8,1335.1" stroke="#b4dcff" stroke-width="2.6" stroke-dasharray="17 32 44 19 26 24 20 47 39 12 30 23 23 13 33 23 36 13" stroke-dashoffset="40"/><path d="M1779.9,787.5A303.8,303.8 0 1 1 1501.7,1326.8" stroke="#8ccaff" stroke-width="3.2" stroke-dasharray="33 12 36 41 19 23 19 30 10 11 35 27 43 23 20 42 33 20" stroke-dashoffset="53"/><path d="M1780.4,785.4A305.9,305.9 0 1 1 1508.3,1333.0" stroke="#0a4cc0" stroke-width="2.4" stroke-dasharray="32 43 45 13 31 29 27 16 33 14 37 12 8 44 22 25 30 28" stroke-dashoffset="93"/><path d="M1786.0,784.8A308.8,308.8 0 1 1 1506.4,1335.3" stroke="#8ccaff" stroke-width="2.3" stroke-dasharray="26 23 14 31 8 27 44 45 8 17 28 26 40 24 43 45 8 35" stroke-dashoffset="139"/><path d="M1805.7,790.6A312.7,312.7 0 0 1 1527.5,1350.0" stroke="#8ccaff" stroke-width="2.7" stroke-dasharray="45 23 22 16 45 47 10 27 25 18 36 43 23 49 34 18 37 14" stroke-dashoffset="43"/><path d="M1791.5,779.6A315.9,315.9 0 1 1 1511.9,1346.1" stroke="#8ccaff" stroke-width="2.3" stroke-dasharray="46 26 43 48 35 16 17 32 38 15 11 49 45 11 31 30 11 27" stroke-dashoffset="89"/><path d="M1831.1,798.0A319.6,319.6 0 0 1 1507.9,1348.2" stroke="#1a6ee0" stroke-width="2.8" stroke-dasharray="27 46 28 24 34 9 28 23 28 25 36 35 8 30 25 24 16 42" stroke-dashoffset="176"/><path d="M1808.3,781.5A321.9,321.9 0 1 1 1466.1,1325.3" stroke="#b4dcff" stroke-width="2.5" stroke-dasharray="11 41 17 27 9 37 39 46 38 40 45 40 18 15 23 20 46 35" stroke-dashoffset="195"/><path d="M1799.0,772.7A325.4,325.4 0 1 1 1485.0,1342.1" stroke="#0a4cc0" stroke-width="2.0" stroke-dasharray="22 31 49 39 17 28 11 19 42 15 34 40 48 26 10 26 35 40" stroke-dashoffset="59"/><path d="M1822.1,781.7A328.6,328.6 0 1 1 1476.2,1340.3" stroke="#8ccaff" stroke-width="2.6" stroke-dasharray="11 13 49 15 49 24 35 13 27 43 29 42 32 22 29 21 21 46" stroke-dashoffset="68"/><path d="M1803.4,767.1A332.4,332.4 0 1 1 1467.6,1339.2" stroke="#8ccaff" stroke-width="2.3" stroke-dasharray="18 19 16 48 42 23 26 42 32 33 25 33 8 15 43 47 32 36" stroke-dashoffset="96"/><path d="M1825.3,775.1A335.9,335.9 0 1 1 1473.7,1347.4" stroke="#6ab8ff" stroke-width="2.7" stroke-dasharray="25 39 26 36 17 38 35 14 25 39 32 32 42 15 14 44 13 37" stroke-dashoffset="100"/><path d="M1783.1,750.5A339.1,339.1 0 1 1 1515.6,1373.6" stroke="#6ab8ff" stroke-width="2.6" stroke-dasharray="22 50 19 31 24 10 23 35 45 25 15 35 10 30 13 37 40 41" stroke-dashoffset="246"/></g>
</g>
<g mask="url(#mRmid)">
<g fill="none" opacity="0.75"><path d="M1621.0,1013.9A60.0,60.0 0 1 1 1686.0,1114.8" stroke="#000000" stroke-width="1.9" stroke-dasharray="9 10 9 27 11 19 9 16 8 10 9 21 6 16 10 18 12 29" stroke-dashoffset="23"/><path d="M1618.5,1012.1A62.9,62.9 0 1 1 1683.2,1119.8" stroke="#000000" stroke-width="2.7" stroke-dasharray="11 20 9 21 4 20 6 17 4 22 11 10 9 9 7 12 11 24" stroke-dashoffset="93"/><path d="M1621.0,1007.8A65.2,65.2 0 1 1 1685.4,1121.2" stroke="#001050" stroke-width="2.1" stroke-dasharray="4 14 6 11 6 22 8 10 9 14 6 18 5 16 5 11 9 22" stroke-dashoffset="159"/><path d="M1620.9,1004.7A67.9,67.9 0 1 1 1680.8,1126.4" stroke="#001050" stroke-width="2.6" stroke-dasharray="6 13 10 17 8 28 4 14 9 9 10 17 7 12 12 9 11 24" stroke-dashoffset="104"/><path d="M1618.2,1004.1A69.8,69.8 0 1 1 1686.8,1125.5" stroke="#000410" stroke-width="2.4" stroke-dasharray="11 23 6 29 6 8 6 19 4 21 8 15 10 22 12 27 11 29" stroke-dashoffset="21"/><path d="M1623.3,997.7A73.1,73.1 0 0 1 1685.1,1130.2" stroke="#000410" stroke-width="2.8" stroke-dasharray="9 21 5 22 4 11 4 24 12 21 5 24 5 24 9 29 5 13" stroke-dashoffset="51"/><path d="M1615.6,999.2A75.3,75.3 0 1 1 1691.0,1129.6" stroke="#000000" stroke-width="2.8" stroke-dasharray="6 8 5 20 12 11 11 19 8 23 5 15 7 21 9 17 8 14" stroke-dashoffset="174"/><path d="M1606.7,1001.8A78.2,78.2 0 1 1 1690.5,1133.1" stroke="#000000" stroke-width="1.8" stroke-dasharray="12 11 8 18 6 12 10 21 10 14 8 12 5 11 9 27 9 25" stroke-dashoffset="224"/><path d="M1614.2,993.6A80.9,80.9 0 0 1 1702.6,1128.7" stroke="#000410" stroke-width="2.6" stroke-dasharray="10 14 10 13 10 16 10 19 11 19 7 19 8 20 10 19 7 27" stroke-dashoffset="166"/><path d="M1607.1,995.0A83.5,83.5 0 1 1 1685.6,1141.3" stroke="#001050" stroke-width="1.9" stroke-dasharray="7 22 7 11 11 13 6 18 12 23 5 10 8 9 6 10 11 27" stroke-dashoffset="174"/><path d="M1610.4,989.6A86.2,86.2 0 1 1 1687.4,1143.5" stroke="#001050" stroke-width="2.0" stroke-dasharray="11 27 7 9 8 25 10 22 7 26 8 16 11 22 8 30 9 28" stroke-dashoffset="161"/><path d="M1604.8,989.5A89.3,89.3 0 1 1 1688.0,1146.5" stroke="#000000" stroke-width="2.0" stroke-dasharray="10 19 7 22 5 17 8 29 8 30 10 20 5 22 5 24 10 8" stroke-dashoffset="168"/><path d="M1614.2,981.2A91.8,91.8 0 0 1 1708.1,1138.2" stroke="#000000" stroke-width="2.2" stroke-dasharray="5 22 8 19 8 11 5 21 5 17 9 25 5 16 5 13 12 24" stroke-dashoffset="215"/><path d="M1618.2,975.9A95.1,95.1 0 0 1 1705.1,1144.1" stroke="#001050" stroke-width="2.4" stroke-dasharray="5 13 7 19 7 19 11 12 5 13 4 17 6 19 4 21 10 20" stroke-dashoffset="122"/><path d="M1597.7,984.5A97.4,97.4 0 1 1 1700.4,1149.7" stroke="#001050" stroke-width="2.2" stroke-dasharray="10 18 6 17 5 12 11 18 8 18 5 11 4 21 6 23 7 25" stroke-dashoffset="186"/><path d="M1595.5,983.3A99.7,99.7 0 1 1 1696.0,1154.4" stroke="#001050" stroke-width="2.3" stroke-dasharray="8 26 11 17 9 20 7 10 4 11 7 14 6 14 7 25 10 25" stroke-dashoffset="288"/><path d="M1594.1,981.2A102.2,102.2 0 1 1 1710.9,1149.0" stroke="#001050" stroke-width="2.2" stroke-dasharray="8 21 12 12 10 11 7 25 9 23 6 21 5 17 12 12 9 22" stroke-dashoffset="286"/><path d="M1599.1,975.3A104.4,104.4 0 0 1 1713.6,1149.7" stroke="#001050" stroke-width="2.0" stroke-dasharray="9 14 6 11 10 22 8 22 11 29 6 27 9 24 5 29 7 10" stroke-dashoffset="54"/><path d="M1607.2,968.6A106.3,106.3 0 0 1 1707.1,1156.1" stroke="#000410" stroke-width="2.9" stroke-dasharray="5 14 6 25 5 8 10 8 12 10 9 24 10 17 9 14 9 10" stroke-dashoffset="164"/><path d="M1603.2,968.5A108.2,108.2 0 1 1 1702.0,1161.0" stroke="#000410" stroke-width="2.6" stroke-dasharray="8 30 7 23 5 23 7 29 8 23 7 15 10 19 9 27 5 16" stroke-dashoffset="241"/><path d="M1597.4,969.5A110.1,110.1 0 0 1 1717.6,1153.9" stroke="#000410" stroke-width="3.0" stroke-dasharray="5 25 10 15 8 27 11 13 12 30 7 19 5 17 6 14 9 26" stroke-dashoffset="153"/><path d="M1590.0,971.6A112.4,112.4 0 1 1 1714.1,1158.9" stroke="#000000" stroke-width="3.0" stroke-dasharray="6 20 5 26 5 22 9 28 5 12 11 12 9 23 5 19 6 18" stroke-dashoffset="9"/><path d="M1609.7,957.3A115.6,115.6 0 0 1 1716.4,1161.3" stroke="#000410" stroke-width="2.5" stroke-dasharray="9 19 9 19 11 18 7 12 10 10 8 10 8 22 11 21 10 11" stroke-dashoffset="32"/><path d="M1601.5,958.3A118.0,118.0 0 0 1 1723.7,1159.2" stroke="#001050" stroke-width="2.5" stroke-dasharray="12 12 6 11 10 10 6 12 7 22 10 23 5 16 9 9 6 18" stroke-dashoffset="162"/><path d="M1584.7,965.8A120.1,120.1 0 1 1 1719.6,1164.7" stroke="#000410" stroke-width="2.3" stroke-dasharray="6 19 8 17 7 22 5 13 12 23 5 17 6 18 11 25 4 22" stroke-dashoffset="98"/><path d="M1603.6,951.3A123.4,123.4 0 0 1 1715.9,1170.7" stroke="#000000" stroke-width="2.3" stroke-dasharray="7 13 7 28 4 8 10 9 6 17 8 15 9 14 9 27 10 27" stroke-dashoffset="181"/><path d="M1585.3,958.4A126.0,126.0 0 1 1 1705.8,1178.8" stroke="#000000" stroke-width="2.5" stroke-dasharray="12 20 10 28 6 22 6 9 12 17 11 19 5 18 9 27 10 10" stroke-dashoffset="52"/><path d="M1588.3,953.2A128.8,128.8 0 1 1 1719.3,1175.0" stroke="#001050" stroke-width="2.7" stroke-dasharray="9 15 6 18 5 26 6 11 5 15 6 26 9 20 11 15 6 24" stroke-dashoffset="129"/><path d="M1591.0,948.1A131.9,131.9 0 1 1 1707.0,1184.8" stroke="#000000" stroke-width="1.9" stroke-dasharray="6 14 9 14 12 29 10 9 11 16 6 14 6 8 5 15 11 8" stroke-dashoffset="147"/><path d="M1589.8,946.3A134.1,134.1 0 1 1 1709.3,1186.2" stroke="#001050" stroke-width="1.8" stroke-dasharray="11 12 8 12 11 12 7 10 11 27 6 23 5 29 9 11 6 26" stroke-dashoffset="19"/><path d="M1576.8,951.1A136.8,136.8 0 1 1 1729.1,1178.3" stroke="#000000" stroke-width="2.2" stroke-dasharray="12 13 4 18 8 9 12 9 10 27 4 28 5 21 10 11 9 14" stroke-dashoffset="33"/><path d="M1599.9,935.1A139.8,139.8 0 0 1 1710.5,1191.8" stroke="#000410" stroke-width="2.3" stroke-dasharray="9 27 11 17 9 8 11 22 12 16 6 24 7 15 11 9 12 13" stroke-dashoffset="220"/><path d="M1582.1,941.0A142.4,142.4 0 0 1 1737.9,1179.1" stroke="#001050" stroke-width="2.0" stroke-dasharray="6 13 5 14 12 21 5 12 9 29 11 26 9 13 8 26 6 11" stroke-dashoffset="242"/><path d="M1594.7,931.8A144.9,144.9 0 0 1 1741.7,1179.3" stroke="#000410" stroke-width="2.8" stroke-dasharray="9 11 7 10 10 18 10 20 8 24 5 13 12 20 8 24 8 13" stroke-dashoffset="159"/><path d="M1593.2,930.2A147.0,147.0 0 0 1 1731.5,1188.9" stroke="#001050" stroke-width="1.8" stroke-dasharray="11 17 7 14 12 16 6 20 8 27 9 13 4 14 5 13 10 29" stroke-dashoffset="81"/><path d="M1596.5,926.6A149.0,149.0 0 0 1 1724.6,1195.2" stroke="#000410" stroke-width="2.2" stroke-dasharray="6 18 9 20 6 10 5 23 7 26 11 27 9 16 8 23 6 18" stroke-dashoffset="103"/><path d="M1584.6,930.0A150.9,150.9 0 1 1 1718.5,1200.4" stroke="#000000" stroke-width="2.6" stroke-dasharray="6 11 6 14 9 9 10 27 8 28 9 25 4 29 12 13 5 11" stroke-dashoffset="217"/><path d="M1559.8,942.8A153.6,153.6 0 1 1 1734.1,1195.0" stroke="#000000" stroke-width="2.9" stroke-dasharray="6 10 5 21 12 23 5 26 8 10 12 17 8 12 7 27 11 24" stroke-dashoffset="29"/><path d="M1586.2,923.8A155.7,155.7 0 1 1 1721.4,1204.4" stroke="#000410" stroke-width="2.6" stroke-dasharray="8 22 6 24 9 8 9 17 10 25 9 14 8 9 12 20 11 14" stroke-dashoffset="126"/><path d="M1559.0,937.0A158.6,158.6 0 1 1 1748.7,1191.3" stroke="#000000" stroke-width="2.8" stroke-dasharray="5 25 11 19 5 29 5 22 9 22 5 8 12 9 4 26 10 28" stroke-dashoffset="48"/><path d="M1562.9,931.0A161.2,161.2 0 0 1 1747.7,1195.2" stroke="#000000" stroke-width="2.6" stroke-dasharray="7 29 8 25 10 11 12 29 11 21 9 24 7 23 11 8 9 14" stroke-dashoffset="160"/><path d="M1554.7,933.6A163.9,163.9 0 1 1 1724.6,1211.9" stroke="#000410" stroke-width="2.3" stroke-dasharray="8 8 9 17 5 15 12 27 9 30 5 12 7 28 7 19 6 18" stroke-dashoffset="258"/><path d="M1558.6,926.7A167.2,167.2 0 1 1 1739.4,1207.7" stroke="#000410" stroke-width="2.4" stroke-dasharray="6 22 5 19 9 13 6 20 11 23 7 16 8 11 11 13 10 12" stroke-dashoffset="246"/><path d="M1581.8,910.5A169.6,169.6 0 0 1 1750.7,1203.3" stroke="#000410" stroke-width="1.8" stroke-dasharray="5 25 10 23 9 18 9 24 6 25 12 14 7 16 6 23 12 15" stroke-dashoffset="160"/><path d="M1576.7,911.0A171.4,171.4 0 0 1 1749.0,1206.7" stroke="#000410" stroke-width="2.5" stroke-dasharray="7 12 10 14 9 28 6 26 5 28 12 11 10 20 7 15 10 16" stroke-dashoffset="120"/><path d="M1564.0,915.0A174.0,174.0 0 0 1 1758.5,1203.2" stroke="#001050" stroke-width="2.3" stroke-dasharray="10 12 11 21 8 14 5 27 5 22 6 14 10 23 6 11 6 23" stroke-dashoffset="280"/><path d="M1558.3,915.5A176.7,176.7 0 1 1 1728.0,1224.4" stroke="#001050" stroke-width="2.9" stroke-dasharray="9 17 10 23 10 29 5 29 10 23 9 11 6 12 4 20 5 10" stroke-dashoffset="54"/><path d="M1563.1,908.8A179.9,179.9 0 0 1 1757.8,1210.9" stroke="#000410" stroke-width="2.7" stroke-dasharray="8 16 6 10 11 29 5 29 8 16 7 15 12 12 5 24 5 17" stroke-dashoffset="245"/><path d="M1577.0,898.4A182.6,182.6 0 0 1 1749.6,1219.6" stroke="#001050" stroke-width="2.4" stroke-dasharray="4 17 12 12 4 23 9 12 11 29 5 23 6 24 6 15 12 26" stroke-dashoffset="80"/><path d="M1570.8,899.0A184.8,184.8 0 1 1 1730.3,1232.3" stroke="#000410" stroke-width="2.6" stroke-dasharray="11 12 8 14 8 23 5 15 11 11 5 12 10 22 4 10 12 26" stroke-dashoffset="133"/><path d="M1564.1,900.4A186.7,186.7 0 0 1 1761.1,1216.9" stroke="#000410" stroke-width="2.0" stroke-dasharray="8 14 9 16 6 16 12 10 10 19 6 8 4 21 9 15 11 16" stroke-dashoffset="299"/><path d="M1542.3,912.1A188.6,188.6 0 1 1 1754.3,1223.7" stroke="#000410" stroke-width="2.0" stroke-dasharray="8 12 6 27 5 22 5 16 9 19 10 13 8 28 10 27 10 24" stroke-dashoffset="234"/><path d="M1541.7,909.4A191.1,191.1 0 1 1 1738.1,1235.6" stroke="#000410" stroke-width="2.9" stroke-dasharray="10 28 10 12 4 18 11 30 11 14 6 23 7 12 5 24 8 16" stroke-dashoffset="199"/><path d="M1543.1,905.6A193.4,193.4 0 1 1 1742.8,1235.8" stroke="#000410" stroke-width="2.0" stroke-dasharray="4 12 6 20 10 15 6 28 5 13 6 29 9 14 5 23 9 28" stroke-dashoffset="185"/><path d="M1556.8,894.2A195.7,195.7 0 0 1 1755.2,1231.4" stroke="#000000" stroke-width="2.1" stroke-dasharray="6 23 12 24 5 17 10 25 7 18 7 25 8 16 11 22 9 11" stroke-dashoffset="183"/><path d="M1542.6,900.2A198.1,198.1 0 1 1 1744.8,1240.0" stroke="#000410" stroke-width="2.7" stroke-dasharray="4 26 7 9 10 12 5 26 8 12 5 9 5 24 6 9 7 30" stroke-dashoffset="132"/><path d="M1564.7,885.1A199.9,199.9 0 0 1 1745.5,1241.8" stroke="#001050" stroke-width="2.0" stroke-dasharray="6 12 11 29 11 16 8 27 5 16 9 24 5 16 5 9 7 20" stroke-dashoffset="213"/><path d="M1555.7,887.6A201.9,201.9 0 0 1 1760.0,1235.9" stroke="#000410" stroke-width="2.6" stroke-dasharray="9 30 10 29 5 20 9 20 7 26 8 15 9 10 7 24 4 28" stroke-dashoffset="125"/><path d="M1568.4,878.9A203.9,203.9 0 0 1 1744.4,1246.8" stroke="#001050" stroke-width="2.0" stroke-dasharray="8 22 5 26 10 20 8 14 9 9 11 27 7 22 9 19 9 26" stroke-dashoffset="131"/><path d="M1562.9,878.4A206.8,206.8 0 0 1 1746.6,1248.9" stroke="#000000" stroke-width="2.4" stroke-dasharray="6 24 10 26 11 16 5 24 6 14 5 16 10 10 6 11 4 19" stroke-dashoffset="228"/><path d="M1550.6,881.9A209.4,209.4 0 0 1 1767.8,1239.8" stroke="#000410" stroke-width="2.1" stroke-dasharray="5 25 11 25 4 21 12 9 8 11 9 20 7 9 5 28 6 28" stroke-dashoffset="78"/><path d="M1549.2,880.0A211.7,211.7 0 0 1 1767.2,1242.9" stroke="#000000" stroke-width="2.9" stroke-dasharray="9 16 5 16 10 14 6 15 9 15 5 20 6 17 9 13 4 27" stroke-dashoffset="137"/><path d="M1556.8,872.4A214.9,214.9 0 0 1 1767.4,1246.5" stroke="#001050" stroke-width="2.8" stroke-dasharray="6 23 6 14 7 19 4 25 8 18 7 11 11 15 9 13 8 26" stroke-dashoffset="240"/><path d="M1571.9,863.3A216.9,216.9 0 0 1 1774.7,1244.2" stroke="#000410" stroke-width="1.9" stroke-dasharray="10 17 7 8 8 16 6 23 10 20 12 22 8 28 10 12 4 17" stroke-dashoffset="248"/><path d="M1545.5,872.6A220.0,220.0 0 0 1 1785.8,1240.1" stroke="#000000" stroke-width="2.4" stroke-dasharray="8 24 12 21 5 23 6 18 9 28 11 9 9 10 10 29 11 12" stroke-dashoffset="137"/><path d="M1569.6,857.4A223.2,223.2 0 0 1 1783.9,1245.4" stroke="#001050" stroke-width="3.0" stroke-dasharray="12 27 5 28 9 10 7 14 7 24 7 24 12 14 12 9 9 28" stroke-dashoffset="66"/><path d="M1543.5,866.6A226.2,226.2 0 0 1 1784.1,1249.0" stroke="#000000" stroke-width="2.5" stroke-dasharray="7 18 6 25 8 13 6 23 8 11 8 15 6 19 10 15 7 28" stroke-dashoffset="162"/><path d="M1532.2,870.8A228.4,228.4 0 1 1 1769.6,1261.0" stroke="#001050" stroke-width="2.5" stroke-dasharray="7 20 8 12 9 22 5 8 11 24 11 27 5 24 5 8 9 16" stroke-dashoffset="12"/><path d="M1533.7,866.5A231.2,231.2 0 1 1 1748.8,1274.9" stroke="#000410" stroke-width="2.3" stroke-dasharray="9 22 5 13 9 23 11 24 5 12 10 23 9 22 6 22 10 19" stroke-dashoffset="288"/><path d="M1539.2,860.3A233.8,233.8 0 1 1 1755.7,1274.5" stroke="#000000" stroke-width="2.6" stroke-dasharray="8 27 5 12 9 15 9 12 11 22 9 10 7 21 9 8 6 17" stroke-dashoffset="290"/><path d="M1554.5,849.9A236.1,236.1 0 1 1 1746.5,1281.2" stroke="#001050" stroke-width="2.9" stroke-dasharray="8 14 9 29 9 13 11 21 4 9 12 13 8 21 11 21 4 27" stroke-dashoffset="177"/><path d="M1538.0,854.6A239.4,239.4 0 1 1 1768.3,1274.4" stroke="#001050" stroke-width="2.1" stroke-dasharray="11 29 7 15 11 14 12 28 7 27 11 20 7 23 5 27 9 20" stroke-dashoffset="275"/><path d="M1507.6,870.7A242.5,242.5 0 1 1 1763.9,1280.1" stroke="#000410" stroke-width="2.2" stroke-dasharray="12 12 7 12 7 21 6 24 7 17 7 11 11 14 7 27 6 23" stroke-dashoffset="273"/><path d="M1522.4,857.2A245.1,245.1 0 1 1 1769.6,1280.1" stroke="#001050" stroke-width="2.7" stroke-dasharray="7 18 10 23 9 30 8 13 7 27 12 25 10 24 5 14 10 15" stroke-dashoffset="250"/><path d="M1505.0,865.9A247.9,247.9 0 1 1 1788.4,1272.3" stroke="#000410" stroke-width="1.9" stroke-dasharray="6 29 10 12 10 27 5 23 5 26 11 19 8 20 9 12 8 29" stroke-dashoffset="208"/><path d="M1547.5,837.7A250.1,250.1 0 0 1 1779.0,1280.6" stroke="#001050" stroke-width="2.0" stroke-dasharray="9 18 5 19 7 9 6 19 6 20 9 30 11 11 10 11 5 15" stroke-dashoffset="257"/><path d="M1503.5,861.0A252.7,252.7 0 1 1 1799.8,1270.4" stroke="#000410" stroke-width="2.2" stroke-dasharray="7 14 12 24 11 20 11 9 9 25 8 29 11 23 12 16 7 17" stroke-dashoffset="39"/><path d="M1540.0,836.0A254.9,254.9 0 0 1 1796.3,1275.4" stroke="#000410" stroke-width="2.6" stroke-dasharray="5 27 5 12 6 17 6 11 12 27 11 20 7 14 6 29 8 27" stroke-dashoffset="116"/><path d="M1522.5,842.2A257.9,257.9 0 0 1 1794.4,1280.3" stroke="#000410" stroke-width="2.0" stroke-dasharray="6 16 10 17 8 14 8 24 5 11 6 15 9 20 7 28 5 22" stroke-dashoffset="124"/><path d="M1506.2,849.2A260.8,260.8 0 1 1 1765.1,1299.9" stroke="#000410" stroke-width="1.8" stroke-dasharray="12 9 8 22 12 20 7 16 9 18 6 21 7 9 11 12 7 25" stroke-dashoffset="223"/><path d="M1533.8,829.9A263.1,263.1 0 0 1 1800.9,1282.3" stroke="#001050" stroke-width="2.0" stroke-dasharray="12 15 4 26 7 15 7 21 8 22 4 19 11 27 4 28 5 10" stroke-dashoffset="74"/><path d="M1542.2,822.2A266.4,266.4 0 0 1 1783.0,1297.1" stroke="#001050" stroke-width="2.7" stroke-dasharray="5 25 6 26 9 13 10 13 11 27 8 25 11 13 8 25 6 24" stroke-dashoffset="89"/><path d="M1533.5,823.0A269.4,269.4 0 1 1 1757.9,1312.5" stroke="#000000" stroke-width="2.5" stroke-dasharray="7 18 12 29 10 11 7 16 6 10 7 23 5 9 4 9 7 27" stroke-dashoffset="59"/><path d="M1549.6,813.4A271.4,271.4 0 1 1 1756.1,1315.5" stroke="#000410" stroke-width="2.3" stroke-dasharray="10 8 11 20 10 29 6 26 4 30 8 18 10 25 8 13 6 10" stroke-dashoffset="66"/><path d="M1524.6,823.0A273.6,273.6 0 1 1 1769.9,1311.8" stroke="#000410" stroke-width="2.1" stroke-dasharray="4 29 6 16 7 20 10 24 8 26 4 10 6 9 6 9 4 28" stroke-dashoffset="174"/><path d="M1545.7,809.6A276.5,276.5 0 0 1 1821.1,1284.3" stroke="#001050" stroke-width="2.4" stroke-dasharray="10 15 4 26 10 20 11 20 7 21 11 14 8 30 7 17 11 30" stroke-dashoffset="62"/><path d="M1511.5,823.9A279.2,279.2 0 1 1 1761.3,1321.8" stroke="#000000" stroke-width="2.1" stroke-dasharray="7 29 11 10 6 28 9 17 6 11 8 13 5 9 9 24 5 16" stroke-dashoffset="15"/><path d="M1541.1,805.0A282.6,282.6 0 0 1 1816.1,1295.4" stroke="#000410" stroke-width="2.1" stroke-dasharray="8 29 6 27 7 22 10 27 10 27 8 18 10 23 8 14 10 18" stroke-dashoffset="3"/><path d="M1539.7,802.0A285.9,285.9 0 0 1 1797.3,1311.3" stroke="#001050" stroke-width="2.5" stroke-dasharray="5 11 5 22 9 27 9 25 8 21 8 13 11 11 5 14 4 12" stroke-dashoffset="266"/><path d="M1526.4,805.5A288.3,288.3 0 1 1 1771.7,1327.1" stroke="#000000" stroke-width="2.2" stroke-dasharray="4 25 9 30 7 25 11 29 6 15 9 13 10 14 6 25 6 9" stroke-dashoffset="123"/><path d="M1480.6,829.7A291.5,291.5 0 1 1 1813.8,1307.7" stroke="#001050" stroke-width="2.4" stroke-dasharray="9 22 5 13 7 20 5 27 8 19 7 12 10 21 9 27 5 15" stroke-dashoffset="45"/><path d="M1476.0,830.2A293.8,293.8 0 1 1 1799.8,1319.1" stroke="#000000" stroke-width="2.6" stroke-dasharray="8 26 9 14 9 8 6 21 6 27 7 28 4 26 10 30 11 16" stroke-dashoffset="87"/><path d="M1474.1,828.5A296.3,296.3 0 1 1 1775.7,1334.2" stroke="#000410" stroke-width="2.4" stroke-dasharray="9 14 11 12 9 14 8 14 10 21 5 8 5 24 5 17 10 13" stroke-dashoffset="116"/><path d="M1475.6,824.9A298.3,298.3 0 1 1 1786.9,1331.1" stroke="#001050" stroke-width="2.4" stroke-dasharray="8 28 5 16 9 29 5 17 10 28 5 28 11 29 12 30 9 27" stroke-dashoffset="295"/></g>
</g></g>
<g clip-path="url(#cL)"><rect x="165" y="1225" width="11" height="23" fill="#5eb2ff" opacity="0.8"/><rect x="174" y="1257" width="18" height="12" fill="#86c6ff"/><rect x="197" y="1257" width="19" height="14" fill="#98ceff"/><rect x="188" y="1271" width="32" height="13" fill="#78beff"/><rect x="164" y="1270" width="24" height="16" fill="#1c74ea"/><rect x="220" y="1262" width="30" height="20" fill="#4aa6ff" opacity="0.8"/><g fill="#000010"><rect x="212" y="1249" width="13" height="8" transform="skewX(20)" transform-origin="218 1253"/><rect x="178" y="1226" width="7" height="4"/><rect x="197" y="1213" width="4" height="5"/><rect x="203" y="1219" width="4" height="5"/><rect x="212" y="1225" width="5" height="5"/><rect x="220" y="1219" width="5" height="5"/><rect x="238" y="1206" width="7" height="10"/><rect x="225" y="1206" width="7" height="4"/><rect x="192" y="1207" width="5" height="4"/><rect x="184" y="1233" width="4" height="6"/></g></g>
<g clip-path="url(#cR)"><g><rect x="1444.7" y="879.0" width="38.2" height="2.1" fill="#0c3cc0"/><rect x="1443.4" y="885.6" width="19.4" height="1.1" fill="#02146a"/><rect x="1442.8" y="889.4" width="16.9" height="1.2" fill="#0a30b0"/><rect x="1443.9" y="891.8" width="14.8" height="2.2" fill="#0a26a0"/><rect x="1439.7" y="902.0" width="25.8" height="1.3" fill="#06208a"/><rect x="1442.8" y="906.0" width="32.6" height="1.4" fill="#0c3cc0"/><rect x="1442.0" y="910.1" width="22.0" height="1.6" fill="#0a30b0"/><rect x="1444.6" y="912.7" width="46.1" height="2.0" fill="#041a7a"/><rect x="1440.9" y="916.7" width="32.0" height="1.5" fill="#0a26a0"/><rect x="1440.4" y="923.1" width="29.9" height="1.1" fill="#0a30b0"/><rect x="1443.2" y="927.1" width="11.4" height="1.3" fill="#0a26a0"/><rect x="1438.8" y="930.0" width="20.5" height="1.7" fill="#0c3cc0"/><rect x="1438.8" y="932.8" width="13.0" height="1.9" fill="#06208a"/><rect x="1441.8" y="936.0" width="13.1" height="1.6" fill="#02146a"/><rect x="1440.9" y="938.6" width="41.4" height="1.8" fill="#0a30b0"/><rect x="1440.9" y="943.1" width="40.5" height="2.0" fill="#041a7a"/><rect x="1442.6" y="946.9" width="34.0" height="1.1" fill="#0a30b0"/><rect x="1441.8" y="949.3" width="21.2" height="2.1" fill="#0a30b0"/><rect x="1439.7" y="951.7" width="46.5" height="1.9" fill="#0c3cc0"/><rect x="1438.8" y="954.4" width="15.6" height="2.0" fill="#0a30b0"/><rect x="1441.9" y="956.9" width="43.0" height="1.1" fill="#06208a"/><rect x="1441.2" y="960.8" width="23.7" height="1.8" fill="#041a7a"/><rect x="1438.0" y="964.7" width="36.8" height="2.0" fill="#041a7a"/><rect x="1439.8" y="969.2" width="46.4" height="1.8" fill="#041a7a"/><rect x="1438.7" y="971.2" width="19.5" height="1.3" fill="#0c3cc0"/><rect x="1439.3" y="974.5" width="23.5" height="1.8" fill="#041a7a"/><rect x="1437.1" y="978.5" width="42.0" height="1.5" fill="#0c3cc0"/><rect x="1438.8" y="984.6" width="37.3" height="1.5" fill="#0c3cc0"/><rect x="1437.4" y="988.9" width="45.6" height="1.7" fill="#041a7a"/><rect x="1438.5" y="992.5" width="11.0" height="1.7" fill="#06208a"/><rect x="1438.5" y="994.9" width="16.9" height="1.1" fill="#0c3cc0"/><rect x="1434.2" y="997.5" width="15.1" height="2.2" fill="#041a7a"/><rect x="1436.1" y="1000.9" width="23.3" height="1.7" fill="#0c3cc0"/><rect x="1437.4" y="1007.6" width="30.8" height="1.7" fill="#0a26a0"/><rect x="1437.8" y="1013.4" width="34.4" height="1.6" fill="#041a7a"/><rect x="1435.6" y="1016.4" width="17.6" height="1.7" fill="#06208a"/><rect x="1432.4" y="1020.6" width="14.1" height="2.1" fill="#02146a"/><rect x="1437.5" y="1023.4" width="31.4" height="1.5" fill="#0a30b0"/><rect x="1437.9" y="1026.2" width="24.4" height="1.7" fill="#06208a"/><rect x="1434.8" y="1030.6" width="25.8" height="2.1" fill="#041a7a"/><rect x="1432.4" y="1034.9" width="10.9" height="1.7" fill="#0c3cc0"/><rect x="1436.1" y="1037.7" width="41.4" height="1.6" fill="#0a26a0"/><rect x="1434.1" y="1040.3" width="11.4" height="1.3" fill="#0a30b0"/><rect x="1436.1" y="1048.9" width="10.6" height="1.4" fill="#06208a"/><rect x="1432.4" y="1051.8" width="30.1" height="1.4" fill="#0a30b0"/><rect x="1433.4" y="1060.0" width="10.6" height="1.7" fill="#0a30b0"/><rect x="1433.7" y="1064.4" width="42.6" height="1.6" fill="#0a30b0"/><rect x="1435.0" y="1068.2" width="27.7" height="1.4" fill="#0a26a0"/><rect x="1432.8" y="1072.2" width="34.6" height="2.1" fill="#0a30b0"/><rect x="1432.5" y="1075.4" width="28.9" height="1.6" fill="#041a7a"/><rect x="1429.2" y="1078.7" width="37.8" height="2.0" fill="#041a7a"/><rect x="1428.9" y="1082.4" width="37.5" height="2.2" fill="#0a26a0"/><rect x="1433.7" y="1084.5" width="18.3" height="2.0" fill="#0c3cc0"/><rect x="1434.3" y="1088.7" width="36.8" height="1.2" fill="#0a30b0"/><rect x="1429.1" y="1091.8" width="33.7" height="1.7" fill="#0a26a0"/><rect x="1430.4" y="1098.0" width="22.0" height="1.6" fill="#02146a"/><rect x="1433.1" y="1101.6" width="15.3" height="1.2" fill="#041a7a"/><rect x="1432.9" y="1104.9" width="31.1" height="1.3" fill="#02146a"/><rect x="1429.4" y="1110.6" width="15.0" height="1.8" fill="#0a26a0"/><rect x="1427.4" y="1114.3" width="14.7" height="1.5" fill="#02146a"/><rect x="1432.4" y="1117.4" width="14.1" height="1.0" fill="#02146a"/><rect x="1427.4" y="1119.6" width="46.2" height="2.0" fill="#0c3cc0"/><rect x="1431.8" y="1121.8" width="28.7" height="1.2" fill="#06208a"/><rect x="1427.6" y="1124.7" width="22.7" height="1.8" fill="#02146a"/><rect x="1430.4" y="1127.6" width="23.6" height="2.0" fill="#041a7a"/><rect x="1428.9" y="1131.7" width="32.5" height="1.3" fill="#02146a"/><rect x="1427.1" y="1141.4" width="27.6" height="1.2" fill="#06208a"/><rect x="1427.3" y="1144.3" width="43.5" height="1.7" fill="#06208a"/></g></g>
<g><rect x="612.0" y="872.0" width="7.9" height="1.8" fill="#06309a"/><rect x="612.0" y="876.3" width="9.8" height="1.9" fill="#1a6ee4"/><rect x="612.0" y="878.3" width="12.7" height="1.4" fill="#0a44b8"/><rect x="612.0" y="880.8" width="11.7" height="1.8" fill="#1a6ee4"/><rect x="612.0" y="884.0" width="11.1" height="1.2" fill="#0a44b8"/><rect x="612.0" y="888.2" width="10.2" height="2.1" fill="#0a50c8"/><rect x="612.0" y="890.6" width="13.7" height="1.1" fill="#0a50c8"/><rect x="612.0" y="894.6" width="8.2" height="1.9" fill="#0a3aa8"/><rect x="612.0" y="898.4" width="13.4" height="1.6" fill="#1a6ee4"/><rect x="612.0" y="901.5" width="13.5" height="2.3" fill="#0a50c8"/><rect x="612.0" y="903.6" width="10.0" height="1.4" fill="#0a3aa8"/><rect x="612.0" y="907.6" width="12.8" height="1.6" fill="#0a3aa8"/><rect x="612.0" y="911.0" width="10.3" height="1.6" fill="#0a44b8"/><rect x="612.0" y="915.3" width="11.5" height="2.4" fill="#06309a"/><rect x="612.0" y="919.7" width="11.4" height="1.2" fill="#06309a"/><rect x="612.0" y="924.1" width="13.2" height="1.9" fill="#0a44b8"/><rect x="612.0" y="927.7" width="13.9" height="1.4" fill="#0a50c8"/><rect x="612.0" y="929.9" width="12.8" height="2.5" fill="#0a50c8"/><rect x="612.0" y="932.7" width="6.5" height="2.3" fill="#0a50c8"/><rect x="612.0" y="935.5" width="12.2" height="2.3" fill="#0a50c8"/><rect x="612.0" y="939.0" width="12.1" height="1.6" fill="#1a6ee4"/><rect x="612.0" y="941.8" width="13.0" height="2.5" fill="#1a6ee4"/><rect x="612.0" y="944.4" width="6.3" height="1.0" fill="#0a50c8"/><rect x="612.0" y="947.9" width="6.3" height="1.3" fill="#0a3aa8"/><rect x="612.4" y="950.6" width="8.1" height="2.0" fill="#06309a"/><rect x="612.7" y="953.4" width="13.7" height="2.3" fill="#0a3aa8"/><rect x="613.1" y="956.4" width="13.0" height="1.6" fill="#1a6ee4"/><rect x="613.6" y="960.1" width="6.8" height="2.5" fill="#1a6ee4"/><rect x="614.0" y="962.7" width="11.1" height="2.1" fill="#06309a"/><rect x="614.4" y="965.8" width="8.1" height="1.5" fill="#06309a"/><rect x="614.7" y="967.9" width="9.3" height="1.9" fill="#0a50c8"/><rect x="615.1" y="970.8" width="10.7" height="1.2" fill="#06309a"/><rect x="615.4" y="974.0" width="11.4" height="1.5" fill="#06309a"/><rect x="615.8" y="977.8" width="6.2" height="1.1" fill="#0a50c8"/><rect x="616.2" y="982.2" width="8.0" height="1.7" fill="#1a6ee4"/><rect x="616.6" y="985.7" width="7.4" height="1.3" fill="#06309a"/><rect x="617.0" y="989.8" width="8.1" height="2.2" fill="#0a50c8"/><rect x="617.1" y="993.8" width="6.2" height="1.9" fill="#0a44b8"/><rect x="617.2" y="996.5" width="7.8" height="2.2" fill="#0a44b8"/><rect x="617.3" y="999.4" width="11.4" height="2.0" fill="#0a50c8"/><rect x="617.4" y="1001.6" width="8.6" height="1.5" fill="#0a44b8"/><rect x="617.5" y="1004.7" width="12.8" height="1.3" fill="#06309a"/><rect x="616.8" y="1008.6" width="7.7" height="1.9" fill="#06309a"/><rect x="616.3" y="1011.1" width="7.0" height="1.8" fill="#0a44b8"/><rect x="615.8" y="1013.9" width="12.7" height="1.9" fill="#06309a"/><rect x="615.3" y="1016.8" width="12.6" height="1.1" fill="#1a6ee4"/><rect x="614.7" y="1019.6" width="7.0" height="1.4" fill="#06309a"/><rect x="614.1" y="1022.8" width="11.1" height="1.4" fill="#1a6ee4"/><rect x="613.5" y="1025.8" width="13.4" height="1.2" fill="#0a50c8"/><rect x="613.5" y="1029.0" width="12.7" height="1.9" fill="#1a6ee4"/><rect x="613.6" y="1032.1" width="13.6" height="2.4" fill="#0a44b8"/><rect x="613.6" y="1034.2" width="9.7" height="2.1" fill="#1a6ee4"/><rect x="613.6" y="1038.6" width="10.4" height="2.3" fill="#0a50c8"/><rect x="613.7" y="1042.7" width="13.8" height="1.2" fill="#0a44b8"/><rect x="613.7" y="1044.8" width="13.2" height="2.0" fill="#0a44b8"/><rect x="613.8" y="1049.1" width="13.2" height="1.9" fill="#0a50c8"/><rect x="613.8" y="1052.3" width="7.0" height="1.8" fill="#0a44b8"/><rect x="613.9" y="1055.9" width="10.2" height="1.6" fill="#1a6ee4"/><rect x="613.9" y="1058.2" width="7.0" height="2.5" fill="#1a6ee4"/><rect x="613.9" y="1061.4" width="12.3" height="1.5" fill="#0a44b8"/><rect x="613.9" y="1063.7" width="13.1" height="1.2" fill="#0a44b8"/><rect x="614.0" y="1067.7" width="13.4" height="2.2" fill="#0a50c8"/><rect x="614.6" y="1070.9" width="10.6" height="1.6" fill="#06309a"/><rect x="615.1" y="1073.5" width="10.9" height="1.8" fill="#0a50c8"/><rect x="615.7" y="1076.7" width="12.2" height="1.0" fill="#0a50c8"/><rect x="616.5" y="1080.7" width="6.4" height="1.1" fill="#0a3aa8"/><rect x="617.4" y="1085.1" width="12.8" height="1.1" fill="#1a6ee4"/><rect x="618.1" y="1088.3" width="7.3" height="1.1" fill="#0a3aa8"/><rect x="619.4" y="1091.9" width="10.7" height="1.5" fill="#0a44b8"/><rect x="621.1" y="1096.4" width="9.4" height="1.2" fill="#0a50c8"/><rect x="622.5" y="1100.2" width="9.0" height="1.1" fill="#0a44b8"/><rect x="623.2" y="1102.3" width="9.7" height="2.0" fill="#1a6ee4"/><rect x="623.3" y="1105.3" width="12.4" height="1.9" fill="#0a3aa8"/><rect x="623.1" y="1107.4" width="11.0" height="2.1" fill="#06309a"/><rect x="622.8" y="1110.4" width="11.6" height="1.7" fill="#0a44b8"/><rect x="622.6" y="1113.0" width="8.2" height="1.9" fill="#0a3aa8"/><rect x="622.3" y="1115.6" width="7.0" height="1.0" fill="#06309a"/><rect x="622.0" y="1118.5" width="13.2" height="2.2" fill="#06309a"/><rect x="622.5" y="1120.8" width="11.5" height="2.4" fill="#1a6ee4"/><rect x="623.6" y="1124.8" width="11.3" height="2.1" fill="#1a6ee4"/><rect x="624.5" y="1128.1" width="12.5" height="2.1" fill="#0a3aa8"/><rect x="625.2" y="1130.5" width="12.2" height="1.1" fill="#0a50c8"/><rect x="626.4" y="1133.9" width="11.3" height="1.6" fill="#0a50c8"/><rect x="627.4" y="1136.7" width="12.8" height="1.0" fill="#0a50c8"/><rect x="628.8" y="1140.4" width="12.7" height="2.4" fill="#1a6ee4"/><rect x="629.6" y="1143.2" width="6.7" height="2.5" fill="#1a6ee4"/><rect x="630.5" y="1146.4" width="11.7" height="1.2" fill="#0a50c8"/><rect x="631.7" y="1150.8" width="6.5" height="1.5" fill="#1a6ee4"/><rect x="632.2" y="1153.2" width="6.6" height="2.5" fill="#0a44b8"/><rect x="632.6" y="1156.4" width="11.6" height="2.4" fill="#06309a"/><rect x="633.0" y="1159.3" width="9.2" height="1.5" fill="#0a3aa8"/><rect x="633.7" y="1163.7" width="9.0" height="1.4" fill="#0a3aa8"/><rect x="634.3" y="1167.8" width="13.7" height="1.6" fill="#1a6ee4"/><rect x="634.8" y="1171.7" width="11.4" height="1.8" fill="#0a3aa8"/><rect x="635.4" y="1174.1" width="9.2" height="2.3" fill="#0a44b8"/><rect x="636.1" y="1176.3" width="12.0" height="2.4" fill="#1a6ee4"/><rect x="637.6" y="1180.7" width="10.7" height="2.3" fill="#0a44b8"/><rect x="638.5" y="1183.4" width="7.6" height="1.9" fill="#06309a"/><rect x="639.9" y="1187.7" width="12.8" height="1.8" fill="#06309a"/><rect x="640.7" y="1191.4" width="12.8" height="1.9" fill="#1a6ee4"/><rect x="641.5" y="1194.8" width="8.1" height="1.3" fill="#0a50c8"/><rect x="642.0" y="1197.5" width="12.4" height="1.3" fill="#1a6ee4"/><rect x="642.7" y="1200.4" width="8.6" height="2.2" fill="#0a44b8"/><rect x="643.4" y="1203.5" width="11.6" height="2.1" fill="#0a44b8"/><rect x="644.3" y="1206.6" width="12.7" height="2.2" fill="#1a6ee4"/><rect x="644.9" y="1208.7" width="13.9" height="1.1" fill="#0a3aa8"/><rect x="646.0" y="1212.7" width="13.1" height="1.1" fill="#0a44b8"/><rect x="648.3" y="1216.9" width="11.2" height="2.2" fill="#0a50c8"/><rect x="654.8" y="1221.3" width="12.8" height="1.4" fill="#0a44b8"/><rect x="660.6" y="1225.2" width="7.1" height="1.9" fill="#0a50c8"/><rect x="668.5" y="1229.5" width="8.0" height="2.3" fill="#06309a"/><rect x="673.1" y="1231.9" width="6.7" height="2.2" fill="#0a50c8"/><rect x="677.1" y="1234.2" width="12.7" height="1.4" fill="#06309a"/><rect x="679.0" y="1237.3" width="11.9" height="1.5" fill="#0a50c8"/><rect x="680.8" y="1240.1" width="9.5" height="1.7" fill="#0a44b8"/><rect x="683.0" y="1243.7" width="11.9" height="1.7" fill="#0a44b8"/></g>
<g><rect x="1413.4" y="1144.0" width="9.6" height="1.2" fill="#1a70e8"/><rect x="1414.6" y="1147.2" width="8.0" height="1.0" fill="#8ccaff"/><rect x="1406.3" y="1151.5" width="15.8" height="2.1" fill="#4aa6ff"/><rect x="1410.7" y="1154.8" width="11.0" height="2.2" fill="#2a8af8"/><rect x="1403.9" y="1157.4" width="17.4" height="1.0" fill="#6ab8ff"/><rect x="1411.7" y="1161.4" width="9.1" height="1.5" fill="#6ab8ff"/><rect x="1406.8" y="1163.7" width="13.7" height="2.0" fill="#8ccaff"/><rect x="1410.4" y="1166.3" width="9.7" height="1.4" fill="#8ccaff"/><rect x="1412.4" y="1170.4" width="7.1" height="1.4" fill="#6ab8ff"/><rect x="1406.1" y="1174.5" width="12.6" height="1.6" fill="#8ccaff"/><rect x="1405.1" y="1177.2" width="12.0" height="1.3" fill="#6ab8ff"/><rect x="1407.2" y="1181.3" width="7.5" height="1.1" fill="#6ab8ff"/><rect x="1398.8" y="1184.6" width="14.1" height="2.1" fill="#4aa6ff"/><rect x="1403.4" y="1189.1" width="9.2" height="1.6" fill="#4aa6ff"/><rect x="1400.3" y="1192.6" width="11.9" height="1.3" fill="#1a70e8"/><rect x="1401.3" y="1196.5" width="10.5" height="1.8" fill="#6ab8ff"/><rect x="1403.9" y="1198.8" width="7.7" height="1.3" fill="#8ccaff"/><rect x="1401.6" y="1202.3" width="9.6" height="1.5" fill="#4aa6ff"/><rect x="1403.3" y="1205.0" width="7.3" height="1.5" fill="#2a8af8"/><rect x="1390.0" y="1209.3" width="17.5" height="2.1" fill="#6ab8ff"/><rect x="1395.8" y="1211.3" width="10.2" height="2.4" fill="#1a70e8"/><rect x="1386.3" y="1215.5" width="16.6" height="2.0" fill="#2a8af8"/><rect x="1391.7" y="1218.2" width="9.1" height="1.7" fill="#4aa6ff"/><rect x="1384.0" y="1220.8" width="13.6" height="1.2" fill="#8ccaff"/><rect x="1387.6" y="1222.8" width="7.5" height="1.3" fill="#6ab8ff"/><rect x="1376.3" y="1227.3" width="13.3" height="1.7" fill="#4aa6ff"/><rect x="1376.6" y="1230.4" width="9.3" height="1.1" fill="#2a8af8"/><rect x="1367.6" y="1234.2" width="13.6" height="2.5" fill="#8ccaff"/><rect x="1366.5" y="1236.3" width="12.4" height="1.4" fill="#2a8af8"/><rect x="1365.3" y="1238.6" width="12.8" height="2.2" fill="#1a70e8"/><rect x="1367.8" y="1242.3" width="9.2" height="1.3" fill="#1a70e8"/><rect x="1368.7" y="1245.3" width="7.4" height="1.6" fill="#4aa6ff"/><rect x="1363.2" y="1248.9" width="11.7" height="1.3" fill="#4aa6ff"/><rect x="1362.1" y="1251.0" width="9.8" height="1.4" fill="#4aa6ff"/><rect x="1349.5" y="1254.9" width="11.6" height="1.4" fill="#6ab8ff"/><rect x="1338.1" y="1257.1" width="17.2" height="1.8" fill="#8ccaff"/></g>
<g clip-path="url(#cL)">
<path d="M486,955 C492,947 510,948 530,953 C550,958 570,964 582,970 C560,970 540,968 520,966 C505,964 490,962 486,955Z" fill="#6ab8ff" filter="url(#b4)"/>
<path d="M490,953 C496,948 510,949 525,953 C540,957 552,961 560,965 C545,966 530,965 515,963 C503,961 492,959 490,953Z" fill="#f8fcff" filter="url(#b2)"/>
<path d="M470,1066 C500,1064 540,1072 580,1084 C600,1090 615,1096 625,1102 L625,1112 C600,1106 570,1100 540,1094 C510,1088 480,1080 470,1066Z" fill="#74bcff" filter="url(#b6)"/>
<path d="M490,1069 C497,1065 515,1068 535,1074 C555,1080 570,1086 580,1092 C562,1092 545,1088 528,1084 C510,1080 494,1076 490,1069Z" fill="#f4faff" filter="url(#b2)"/>
</g>
<g clip-path="url(#cR)">
<path d="M1420,1168 C1480,1162 1560,1150 1640,1134 C1700,1120 1760,1106 1836,1098 L1836,1132 C1760,1146 1700,1166 1640,1190 C1580,1220 1520,1248 1420,1256Z" fill="#8cc8ff" filter="url(#b12)"/>
<path d="M1448,1182 L1500,1175 L1550,1168 L1605,1156 L1650,1145 L1690,1136 L1690,1152 L1650,1166 L1605,1189 L1550,1215 L1500,1225 L1452,1225Z" fill="#f8fcff" filter="url(#b6)"/>
<path d="M1680,1134 L1730,1123 L1780,1112 L1836,1104 L1836,1118 L1780,1127 L1730,1138 L1680,1152Z" fill="#b8dcff" filter="url(#b6)"/>
</g>
<line x1="163.4" y1="767.5" x2="163.4" y2="1301.5" stroke="#000" stroke-width="1.2"/>
<line x1="1836.5" y1="767.5" x2="1836.5" y2="1301.5" stroke="#000" stroke-width="1.2"/>
<g stroke="#fff" stroke-width="2.9" fill="none"><line x1="163.3" y1="820.90" x2="1837" y2="820.90" stroke-dasharray="3.2 7.9"/><line x1="163.3" y1="874.30" x2="1837" y2="874.30" stroke-dasharray="3.2 7.9"/><line x1="163.3" y1="927.70" x2="1837" y2="927.70" stroke-dasharray="3.2 7.9"/><line x1="163.3" y1="981.10" x2="1837" y2="981.10" stroke-dasharray="3.2 7.9"/><line x1="163.3" y1="1034.50" x2="1837" y2="1034.50" stroke-dasharray="3.2 7.9"/><line x1="163.3" y1="1087.90" x2="1837" y2="1087.90" stroke-dasharray="3.2 7.9"/><line x1="163.3" y1="1141.30" x2="1837" y2="1141.30" stroke-dasharray="3.2 7.9"/><line x1="163.3" y1="1194.70" x2="1837" y2="1194.70" stroke-dasharray="3.2 7.9"/><line x1="163.3" y1="1248.10" x2="1837" y2="1248.10" stroke-dasharray="3.2 7.9"/><line x1="233.49" y1="769.0" x2="233.49" y2="1301.5" stroke-dasharray="3 8"/><line x1="303.18" y1="769.0" x2="303.18" y2="1301.5" stroke-dasharray="3 8"/><line x1="372.87" y1="769.0" x2="372.87" y2="1301.5" stroke-dasharray="3 8"/><line x1="442.57" y1="769.0" x2="442.57" y2="1301.5" stroke-dasharray="3 8"/><line x1="512.26" y1="769.0" x2="512.26" y2="1301.5" stroke-dasharray="3 8"/><line x1="581.95" y1="769.0" x2="581.95" y2="1301.5" stroke-dasharray="3 8"/><line x1="651.64" y1="769.0" x2="651.64" y2="1301.5" stroke-dasharray="3 8"/><line x1="721.33" y1="769.0" x2="721.33" y2="1301.5" stroke-dasharray="3 8"/><line x1="791.02" y1="769.0" x2="791.02" y2="1301.5" stroke-dasharray="3 8"/><line x1="860.71" y1="769.0" x2="860.71" y2="1301.5" stroke-dasharray="3 8"/><line x1="930.41" y1="769.0" x2="930.41" y2="1301.5" stroke-dasharray="3 8"/><line x1="1000.10" y1="769.0" x2="1000.10" y2="1301.5" stroke-dasharray="3 8"/><line x1="1069.79" y1="769.0" x2="1069.79" y2="1301.5" stroke-dasharray="3 8"/><line x1="1139.48" y1="769.0" x2="1139.48" y2="1301.5" stroke-dasharray="3 8"/><line x1="1209.17" y1="769.0" x2="1209.17" y2="1301.5" stroke-dasharray="3 8"/><line x1="1278.86" y1="769.0" x2="1278.86" y2="1301.5" stroke-dasharray="3 8"/><line x1="1348.56" y1="769.0" x2="1348.56" y2="1301.5" stroke-dasharray="3 8"/><line x1="1418.25" y1="769.0" x2="1418.25" y2="1301.5" stroke-dasharray="3 8"/><line x1="1487.94" y1="769.0" x2="1487.94" y2="1301.5" stroke-dasharray="3 8"/><line x1="1557.63" y1="769.0" x2="1557.63" y2="1301.5" stroke-dasharray="3 8"/><line x1="1627.32" y1="769.0" x2="1627.32" y2="1301.5" stroke-dasharray="3 8"/><line x1="1697.01" y1="769.0" x2="1697.01" y2="1301.5" stroke-dasharray="3 8"/><line x1="1766.70" y1="769.0" x2="1766.70" y2="1301.5" stroke-dasharray="3 8"/><line x1="1836.40" y1="769.0" x2="1836.40" y2="1301.5" stroke-dasharray="3 8"/></g>
<line x1="163.9" y1="769.0" x2="163.9" y2="1301.5" stroke="#fff" stroke-width="2" stroke-dasharray="3 8"/>
<line x1="194" y1="780.7" x2="194" y2="1301.5" stroke="#0a5fd8" stroke-width="3.8" stroke-dasharray="16.2 15.4"/>
<g stroke="#000" stroke-width="1" shape-rendering="crispEdges"><line x1="138" y1="767.50" x2="163.8" y2="767.50"/><line x1="151" y1="778.18" x2="163.8" y2="778.18"/><line x1="151" y1="788.86" x2="163.8" y2="788.86"/><line x1="151" y1="799.54" x2="163.8" y2="799.54"/><line x1="151" y1="810.22" x2="163.8" y2="810.22"/><line x1="151" y1="820.90" x2="163.8" y2="820.90"/><line x1="151" y1="831.58" x2="163.8" y2="831.58"/><line x1="151" y1="842.26" x2="163.8" y2="842.26"/><line x1="151" y1="852.94" x2="163.8" y2="852.94"/><line x1="151" y1="863.62" x2="163.8" y2="863.62"/><line x1="138" y1="874.30" x2="163.8" y2="874.30"/><line x1="151" y1="884.98" x2="163.8" y2="884.98"/><line x1="151" y1="895.66" x2="163.8" y2="895.66"/><line x1="151" y1="906.34" x2="163.8" y2="906.34"/><line x1="151" y1="917.02" x2="163.8" y2="917.02"/><line x1="151" y1="927.70" x2="163.8" y2="927.70"/><line x1="151" y1="938.38" x2="163.8" y2="938.38"/><line x1="151" y1="949.06" x2="163.8" y2="949.06"/><line x1="151" y1="959.74" x2="163.8" y2="959.74"/><line x1="151" y1="970.42" x2="163.8" y2="970.42"/><line x1="138" y1="981.10" x2="163.8" y2="981.10"/><line x1="151" y1="991.78" x2="163.8" y2="991.78"/><line x1="151" y1="1002.46" x2="163.8" y2="1002.46"/><line x1="151" y1="1013.14" x2="163.8" y2="1013.14"/><line x1="151" y1="1023.82" x2="163.8" y2="1023.82"/><line x1="151" y1="1034.50" x2="163.8" y2="1034.50"/><line x1="151" y1="1045.18" x2="163.8" y2="1045.18"/><line x1="151" y1="1055.86" x2="163.8" y2="1055.86"/><line x1="151" y1="1066.54" x2="163.8" y2="1066.54"/><line x1="151" y1="1077.22" x2="163.8" y2="1077.22"/><line x1="138" y1="1087.90" x2="163.8" y2="1087.90"/><line x1="151" y1="1098.58" x2="163.8" y2="1098.58"/><line x1="151" y1="1109.26" x2="163.8" y2="1109.26"/><line x1="151" y1="1119.94" x2="163.8" y2="1119.94"/><line x1="151" y1="1130.62" x2="163.8" y2="1130.62"/><line x1="151" y1="1141.30" x2="163.8" y2="1141.30"/><line x1="151" y1="1151.98" x2="163.8" y2="1151.98"/><line x1="151" y1="1162.66" x2="163.8" y2="1162.66"/><line x1="151" y1="1173.34" x2="163.8" y2="1173.34"/><line x1="151" y1="1184.02" x2="163.8" y2="1184.02"/><line x1="138" y1="1194.70" x2="163.8" y2="1194.70"/><line x1="151" y1="1205.38" x2="163.8" y2="1205.38"/><line x1="151" y1="1216.06" x2="163.8" y2="1216.06"/><line x1="151" y1="1226.74" x2="163.8" y2="1226.74"/><line x1="151" y1="1237.42" x2="163.8" y2="1237.42"/><line x1="151" y1="1248.10" x2="163.8" y2="1248.10"/><line x1="151" y1="1258.78" x2="163.8" y2="1258.78"/><line x1="151" y1="1269.46" x2="163.8" y2="1269.46"/><line x1="151" y1="1280.14" x2="163.8" y2="1280.14"/><line x1="151" y1="1290.82" x2="163.8" y2="1290.82"/><line x1="138" y1="1301.50" x2="163.8" y2="1301.50"/><line x1="163.80" y1="1301.5" x2="163.80" y2="1309.5"/><line x1="233.49" y1="1301.5" x2="233.49" y2="1305.5"/><line x1="303.18" y1="1301.5" x2="303.18" y2="1305.5"/><line x1="372.87" y1="1301.5" x2="372.87" y2="1305.5"/><line x1="442.57" y1="1301.5" x2="442.57" y2="1305.5"/><line x1="512.26" y1="1301.5" x2="512.26" y2="1305.5"/><line x1="581.95" y1="1301.5" x2="581.95" y2="1309.5"/><line x1="651.64" y1="1301.5" x2="651.64" y2="1305.5"/><line x1="721.33" y1="1301.5" x2="721.33" y2="1305.5"/><line x1="791.02" y1="1301.5" x2="791.02" y2="1305.5"/><line x1="860.71" y1="1301.5" x2="860.71" y2="1305.5"/><line x1="930.41" y1="1301.5" x2="930.41" y2="1305.5"/><line x1="1000.10" y1="1301.5" x2="1000.10" y2="1309.5"/><line x1="1069.79" y1="1301.5" x2="1069.79" y2="1305.5"/><line x1="1139.48" y1="1301.5" x2="1139.48" y2="1305.5"/><line x1="1209.17" y1="1301.5" x2="1209.17" y2="1305.5"/><line x1="1278.86" y1="1301.5" x2="1278.86" y2="1305.5"/><line x1="1348.56" y1="1301.5" x2="1348.56" y2="1305.5"/><line x1="1418.25" y1="1301.5" x2="1418.25" y2="1309.5"/><line x1="1487.94" y1="1301.5" x2="1487.94" y2="1305.5"/><line x1="1557.63" y1="1301.5" x2="1557.63" y2="1305.5"/><line x1="1627.32" y1="1301.5" x2="1627.32" y2="1305.5"/><line x1="1697.01" y1="1301.5" x2="1697.01" y2="1305.5"/><line x1="1766.70" y1="1301.5" x2="1766.70" y2="1305.5"/><line x1="1836.40" y1="1301.5" x2="1836.40" y2="1309.5"/><line x1="138" y1="767.5" x2="1837" y2="767.5"/><line x1="138" y1="1301.5" x2="1837" y2="1301.5"/></g>
<g style="font-family:'Liberation Sans',Arial,Helvetica,sans-serif;font-size:37px" fill="#000"><text x="129.3" y="789.5" text-anchor="end">-40</text><text x="129.3" y="886.5" text-anchor="end">-50</text><text x="129.3" y="993.3" text-anchor="end">-60</text><text x="129.3" y="1100.1" text-anchor="end">-70</text><text x="129.3" y="1206.9" text-anchor="end">-80</text><text x="129.3" y="1301.5" text-anchor="end">-90</text><text x="163.8" y="1355.8" text-anchor="middle">0</text><text x="581.9" y="1355.8" text-anchor="middle">90</text><text x="1000.1" y="1355.8" text-anchor="middle">180</text><text x="1418.2" y="1355.8" text-anchor="middle">270</text><text x="1836.4" y="1355.8" text-anchor="middle">360</text></g>
<text x="999" y="695.3" text-anchor="middle" style="font-family:'Liberation Sans',Arial,Helvetica,sans-serif;font-size:37px;letter-spacing:-0.3px">SIII Longitude (<tspan style="font-size:24px" dy="-8">°</tspan><tspan dy="8">)</tspan></text>
<text x="999" y="1395.3" text-anchor="middle" style="font-family:'Liberation Sans',Arial,Helvetica,sans-serif;font-size:37px;letter-spacing:-0.3px">SIII Longitude (<tspan style="font-size:24px" dy="-8">°</tspan><tspan dy="8">)</tspan></text>
<text transform="translate(60.8,421.5) rotate(-90)" style="font-family:'Liberation Sans',Arial,Helvetica,sans-serif;font-size:37px;letter-spacing:-0.4px">Latitude (<tspan style="font-size:24px" dy="-8">°</tspan><tspan dy="8">)</tspan></text>
<text transform="translate(60.8,1121.5) rotate(-90)" style="font-family:'Liberation Sans',Arial,Helvetica,sans-serif;font-size:37px;letter-spacing:-0.4px">Latitude (<tspan style="font-size:24px" dy="-8">°</tspan><tspan dy="8">)</tspan></text>
<defs><linearGradient id="cbg" x1="0" y1="0" x2="0" y2="1"><stop offset="0.0" stop-color="#eef7ff"/><stop offset="0.03" stop-color="#ddeeff"/><stop offset="0.09" stop-color="#b4daff"/><stop offset="0.16" stop-color="#74baff"/><stop offset="0.24" stop-color="#2e98ff"/><stop offset="0.31" stop-color="#0c80f6"/><stop offset="0.37" stop-color="#0068e0"/><stop offset="0.45" stop-color="#004cbe"/><stop offset="0.53" stop-color="#0030a0"/><stop offset="0.61" stop-color="#00188a"/><stop offset="0.68" stop-color="#000a72"/><stop offset="0.78" stop-color="#00044c"/><stop offset="0.88" stop-color="#00022a"/><stop offset="1.0" stop-color="#000010"/></linearGradient></defs>
<rect x="1851.2" y="1089.5" width="38.4" height="210.7" fill="url(#cbg)" stroke="#000" stroke-width="2"/>
<g stroke="#000" stroke-width="1.5"><line x1="1851.2" y1="1300.2" x2="1855.2" y2="1300.2"/><line x1="1889.6" y1="1300.2" x2="1885.6" y2="1300.2"/><line x1="1851.2" y1="1280.3" x2="1853.2" y2="1280.3"/><line x1="1889.6" y1="1280.3" x2="1887.6" y2="1280.3"/><line x1="1851.2" y1="1268.6" x2="1853.2" y2="1268.6"/><line x1="1889.6" y1="1268.6" x2="1887.6" y2="1268.6"/><line x1="1851.2" y1="1260.3" x2="1853.2" y2="1260.3"/><line x1="1889.6" y1="1260.3" x2="1887.6" y2="1260.3"/><line x1="1851.2" y1="1253.9" x2="1853.2" y2="1253.9"/><line x1="1889.6" y1="1253.9" x2="1887.6" y2="1253.9"/><line x1="1851.2" y1="1248.7" x2="1853.2" y2="1248.7"/><line x1="1889.6" y1="1248.7" x2="1887.6" y2="1248.7"/><line x1="1851.2" y1="1244.3" x2="1853.2" y2="1244.3"/><line x1="1889.6" y1="1244.3" x2="1887.6" y2="1244.3"/><line x1="1851.2" y1="1240.4" x2="1853.2" y2="1240.4"/><line x1="1889.6" y1="1240.4" x2="1887.6" y2="1240.4"/><line x1="1851.2" y1="1237.0" x2="1853.2" y2="1237.0"/><line x1="1889.6" y1="1237.0" x2="1887.6" y2="1237.0"/><line x1="1851.2" y1="1234.0" x2="1855.2" y2="1234.0"/><line x1="1889.6" y1="1234.0" x2="1885.6" y2="1234.0"/><line x1="1851.2" y1="1214.1" x2="1853.2" y2="1214.1"/><line x1="1889.6" y1="1214.1" x2="1887.6" y2="1214.1"/><line x1="1851.2" y1="1202.4" x2="1853.2" y2="1202.4"/><line x1="1889.6" y1="1202.4" x2="1887.6" y2="1202.4"/><line x1="1851.2" y1="1194.1" x2="1853.2" y2="1194.1"/><line x1="1889.6" y1="1194.1" x2="1887.6" y2="1194.1"/><line x1="1851.2" y1="1187.7" x2="1853.2" y2="1187.7"/><line x1="1889.6" y1="1187.7" x2="1887.6" y2="1187.7"/><line x1="1851.2" y1="1182.5" x2="1853.2" y2="1182.5"/><line x1="1889.6" y1="1182.5" x2="1887.6" y2="1182.5"/><line x1="1851.2" y1="1178.1" x2="1853.2" y2="1178.1"/><line x1="1889.6" y1="1178.1" x2="1887.6" y2="1178.1"/><line x1="1851.2" y1="1174.2" x2="1853.2" y2="1174.2"/><line x1="1889.6" y1="1174.2" x2="1887.6" y2="1174.2"/><line x1="1851.2" y1="1170.8" x2="1853.2" y2="1170.8"/><line x1="1889.6" y1="1170.8" x2="1887.6" y2="1170.8"/><line x1="1851.2" y1="1167.8" x2="1855.2" y2="1167.8"/><line x1="1889.6" y1="1167.8" x2="1885.6" y2="1167.8"/><line x1="1851.2" y1="1147.9" x2="1853.2" y2="1147.9"/><line x1="1889.6" y1="1147.9" x2="1887.6" y2="1147.9"/><line x1="1851.2" y1="1136.2" x2="1853.2" y2="1136.2"/><line x1="1889.6" y1="1136.2" x2="1887.6" y2="1136.2"/><line x1="1851.2" y1="1127.9" x2="1853.2" y2="1127.9"/><line x1="1889.6" y1="1127.9" x2="1887.6" y2="1127.9"/><line x1="1851.2" y1="1121.5" x2="1853.2" y2="1121.5"/><line x1="1889.6" y1="1121.5" x2="1887.6" y2="1121.5"/><line x1="1851.2" y1="1116.3" x2="1853.2" y2="1116.3"/><line x1="1889.6" y1="1116.3" x2="1887.6" y2="1116.3"/><line x1="1851.2" y1="1111.9" x2="1853.2" y2="1111.9"/><line x1="1889.6" y1="1111.9" x2="1887.6" y2="1111.9"/><line x1="1851.2" y1="1108.0" x2="1853.2" y2="1108.0"/><line x1="1889.6" y1="1108.0" x2="1887.6" y2="1108.0"/><line x1="1851.2" y1="1104.6" x2="1853.2" y2="1104.6"/><line x1="1889.6" y1="1104.6" x2="1887.6" y2="1104.6"/><line x1="1851.2" y1="1101.6" x2="1855.2" y2="1101.6"/><line x1="1889.6" y1="1101.6" x2="1885.6" y2="1101.6"/></g>
<g style="font-family:'Liberation Sans',Arial,Helvetica,sans-serif;font-size:29.5px"><text x="1897.6" y="1112.4">1000</text><text x="1897.6" y="1177.9">100</text><text x="1897.6" y="1244.3">10</text><text x="1897.6" y="1300.2">1</text></g>
<text x="1837.6" y="1077.6" style="font-family:'Liberation Sans',Arial,Helvetica,sans-serif;font-size:29.5px">kR H<tspan dy="4.3" style="font-size:15px">2</tspan></text>
<g stroke="#000" stroke-width="1.3"><line x1="1858.6" y1="1089.5" x2="1858.6" y2="1092.5"/><line x1="1866.3" y1="1089.5" x2="1866.3" y2="1092.5"/><line x1="1873.6" y1="1089.5" x2="1873.6" y2="1092.5"/><line x1="1881.3" y1="1089.5" x2="1881.3" y2="1092.5"/></g>
</svg>
</body></html>
